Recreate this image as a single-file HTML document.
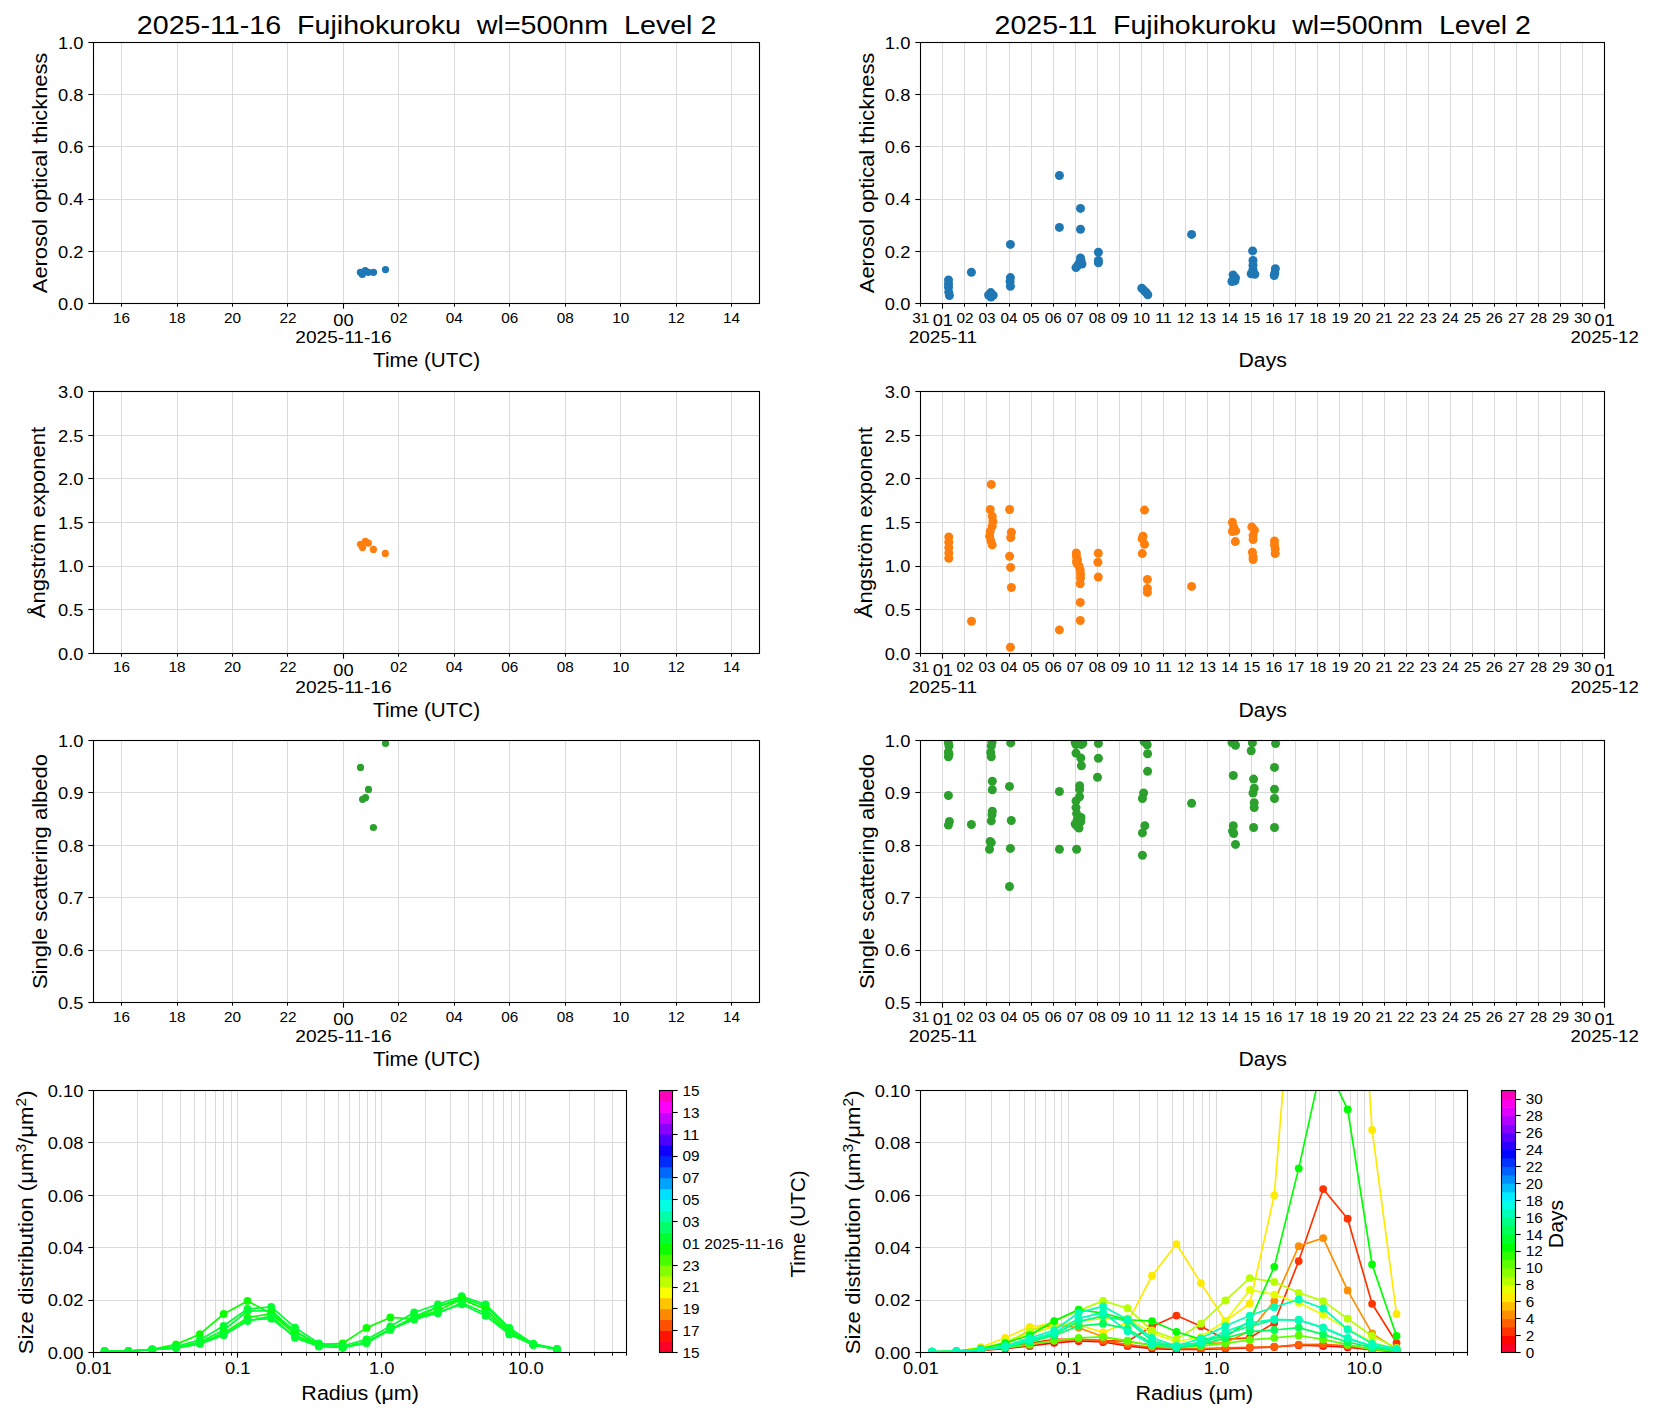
<!DOCTYPE html>
<html><head><meta charset="utf-8"><style>
html,body{margin:0;padding:0;background:#fff;}
svg{display:block;}
text{font-family:"Liberation Sans", sans-serif;fill:#000;white-space:pre;}
</style></head><body>
<svg width="1654" height="1420" viewBox="0 0 1654 1420">
<rect width="1654" height="1420" fill="#fff"/>
<text x="426.62" y="34" font-size="26" text-anchor="middle" textLength="579.5" lengthAdjust="spacingAndGlyphs">2025-11-16  Fujihokuroku  wl=500nm  Level 2</text>
<text x="1262.73" y="34" font-size="26" text-anchor="middle" textLength="536.36" lengthAdjust="spacingAndGlyphs">2025-11  Fujihokuroku  wl=500nm  Level 2</text>
<line x1="121.5" y1="42.5" x2="121.5" y2="303.4" stroke="#dadada" stroke-width="1"/>
<line x1="177.5" y1="42.5" x2="177.5" y2="303.4" stroke="#dadada" stroke-width="1"/>
<line x1="232.5" y1="42.5" x2="232.5" y2="303.4" stroke="#dadada" stroke-width="1"/>
<line x1="287.5" y1="42.5" x2="287.5" y2="303.4" stroke="#dadada" stroke-width="1"/>
<line x1="343.5" y1="42.5" x2="343.5" y2="303.4" stroke="#dadada" stroke-width="1"/>
<line x1="398.5" y1="42.5" x2="398.5" y2="303.4" stroke="#dadada" stroke-width="1"/>
<line x1="454.5" y1="42.5" x2="454.5" y2="303.4" stroke="#dadada" stroke-width="1"/>
<line x1="509.5" y1="42.5" x2="509.5" y2="303.4" stroke="#dadada" stroke-width="1"/>
<line x1="565.5" y1="42.5" x2="565.5" y2="303.4" stroke="#dadada" stroke-width="1"/>
<line x1="620.5" y1="42.5" x2="620.5" y2="303.4" stroke="#dadada" stroke-width="1"/>
<line x1="676.5" y1="42.5" x2="676.5" y2="303.4" stroke="#dadada" stroke-width="1"/>
<line x1="731.5" y1="42.5" x2="731.5" y2="303.4" stroke="#dadada" stroke-width="1"/>
<line x1="88.34" y1="303.5" x2="93.5" y2="303.5" stroke="#000" stroke-width="1.1"/>
<text x="83.44" y="309.7" font-size="16.64" text-anchor="end" textLength="25.47" lengthAdjust="spacingAndGlyphs">0.0</text>
<line x1="93.9" y1="251.5" x2="759.35" y2="251.5" stroke="#dadada" stroke-width="1"/>
<line x1="88.34" y1="251.5" x2="93.5" y2="251.5" stroke="#000" stroke-width="1.1"/>
<text x="83.44" y="257.52" font-size="16.64" text-anchor="end" textLength="25.47" lengthAdjust="spacingAndGlyphs">0.2</text>
<line x1="93.9" y1="199.5" x2="759.35" y2="199.5" stroke="#dadada" stroke-width="1"/>
<line x1="88.34" y1="199.5" x2="93.5" y2="199.5" stroke="#000" stroke-width="1.1"/>
<text x="83.44" y="205.34" font-size="16.64" text-anchor="end" textLength="25.47" lengthAdjust="spacingAndGlyphs">0.4</text>
<line x1="93.9" y1="146.5" x2="759.35" y2="146.5" stroke="#dadada" stroke-width="1"/>
<line x1="88.34" y1="146.5" x2="93.5" y2="146.5" stroke="#000" stroke-width="1.1"/>
<text x="83.44" y="153.16" font-size="16.64" text-anchor="end" textLength="25.47" lengthAdjust="spacingAndGlyphs">0.6</text>
<line x1="93.9" y1="94.5" x2="759.35" y2="94.5" stroke="#dadada" stroke-width="1"/>
<line x1="88.34" y1="94.5" x2="93.5" y2="94.5" stroke="#000" stroke-width="1.1"/>
<text x="83.44" y="100.98" font-size="16.64" text-anchor="end" textLength="25.47" lengthAdjust="spacingAndGlyphs">0.8</text>
<line x1="88.34" y1="42.5" x2="93.5" y2="42.5" stroke="#000" stroke-width="1.1"/>
<text x="83.44" y="48.8" font-size="16.64" text-anchor="end" textLength="25.47" lengthAdjust="spacingAndGlyphs">1.0</text>
<clipPath id="c1"><rect x="93.9" y="42.5" width="665.45" height="260.9"/></clipPath>
<g clip-path="url(#c1)" fill="#1f77b4">
<circle cx="360.4" cy="272.3" r="3.6"/>
<circle cx="362.3" cy="274.5" r="3.6"/>
<circle cx="365.2" cy="270.6" r="3.6"/>
<circle cx="368.4" cy="272.3" r="3.6"/>
<circle cx="373.5" cy="272.3" r="3.6"/>
<circle cx="385.5" cy="269.55" r="3.6"/>
</g>
<rect x="93.5" y="42.5" width="666" height="261" fill="none" stroke="#000" stroke-width="1.1"/>
<line x1="121.5" y1="303.5" x2="121.5" y2="306.68" stroke="#000" stroke-width="1"/>
<text x="121.63" y="322.95" font-size="13.86" text-anchor="middle" textLength="17.03" lengthAdjust="spacingAndGlyphs">16</text>
<line x1="177.5" y1="303.5" x2="177.5" y2="306.68" stroke="#000" stroke-width="1"/>
<text x="177.08" y="322.95" font-size="13.86" text-anchor="middle" textLength="17.03" lengthAdjust="spacingAndGlyphs">18</text>
<line x1="232.5" y1="303.5" x2="232.5" y2="306.68" stroke="#000" stroke-width="1"/>
<text x="232.54" y="322.95" font-size="13.86" text-anchor="middle" textLength="17.03" lengthAdjust="spacingAndGlyphs">20</text>
<line x1="287.5" y1="303.5" x2="287.5" y2="306.68" stroke="#000" stroke-width="1"/>
<text x="287.99" y="322.95" font-size="13.86" text-anchor="middle" textLength="17.03" lengthAdjust="spacingAndGlyphs">22</text>
<line x1="343.5" y1="303.5" x2="343.5" y2="308.66" stroke="#000" stroke-width="1.1"/>
<text x="343.44" y="325.8" font-size="16.64" text-anchor="middle" textLength="20.38" lengthAdjust="spacingAndGlyphs">00</text>
<text x="343.44" y="342.7" font-size="16.64" text-anchor="middle" textLength="96.32" lengthAdjust="spacingAndGlyphs">2025-11-16</text>
<line x1="398.5" y1="303.5" x2="398.5" y2="306.68" stroke="#000" stroke-width="1"/>
<text x="398.9" y="322.95" font-size="13.86" text-anchor="middle" textLength="17.03" lengthAdjust="spacingAndGlyphs">02</text>
<line x1="454.5" y1="303.5" x2="454.5" y2="306.68" stroke="#000" stroke-width="1"/>
<text x="454.35" y="322.95" font-size="13.86" text-anchor="middle" textLength="17.03" lengthAdjust="spacingAndGlyphs">04</text>
<line x1="509.5" y1="303.5" x2="509.5" y2="306.68" stroke="#000" stroke-width="1"/>
<text x="509.81" y="322.95" font-size="13.86" text-anchor="middle" textLength="17.03" lengthAdjust="spacingAndGlyphs">06</text>
<line x1="565.5" y1="303.5" x2="565.5" y2="306.68" stroke="#000" stroke-width="1"/>
<text x="565.26" y="322.95" font-size="13.86" text-anchor="middle" textLength="17.03" lengthAdjust="spacingAndGlyphs">08</text>
<line x1="620.5" y1="303.5" x2="620.5" y2="306.68" stroke="#000" stroke-width="1"/>
<text x="620.71" y="322.95" font-size="13.86" text-anchor="middle" textLength="17.03" lengthAdjust="spacingAndGlyphs">10</text>
<line x1="676.5" y1="303.5" x2="676.5" y2="306.68" stroke="#000" stroke-width="1"/>
<text x="676.17" y="322.95" font-size="13.86" text-anchor="middle" textLength="17.03" lengthAdjust="spacingAndGlyphs">12</text>
<line x1="731.5" y1="303.5" x2="731.5" y2="306.68" stroke="#000" stroke-width="1"/>
<text x="731.62" y="322.95" font-size="13.86" text-anchor="middle" textLength="17.03" lengthAdjust="spacingAndGlyphs">14</text>
<text x="426.62" y="366.9" font-size="20.22" text-anchor="middle" textLength="107.12" lengthAdjust="spacingAndGlyphs">Time (UTC)</text>
<line x1="121.5" y1="391.6" x2="121.5" y2="653.4" stroke="#dadada" stroke-width="1"/>
<line x1="177.5" y1="391.6" x2="177.5" y2="653.4" stroke="#dadada" stroke-width="1"/>
<line x1="232.5" y1="391.6" x2="232.5" y2="653.4" stroke="#dadada" stroke-width="1"/>
<line x1="287.5" y1="391.6" x2="287.5" y2="653.4" stroke="#dadada" stroke-width="1"/>
<line x1="343.5" y1="391.6" x2="343.5" y2="653.4" stroke="#dadada" stroke-width="1"/>
<line x1="398.5" y1="391.6" x2="398.5" y2="653.4" stroke="#dadada" stroke-width="1"/>
<line x1="454.5" y1="391.6" x2="454.5" y2="653.4" stroke="#dadada" stroke-width="1"/>
<line x1="509.5" y1="391.6" x2="509.5" y2="653.4" stroke="#dadada" stroke-width="1"/>
<line x1="565.5" y1="391.6" x2="565.5" y2="653.4" stroke="#dadada" stroke-width="1"/>
<line x1="620.5" y1="391.6" x2="620.5" y2="653.4" stroke="#dadada" stroke-width="1"/>
<line x1="676.5" y1="391.6" x2="676.5" y2="653.4" stroke="#dadada" stroke-width="1"/>
<line x1="731.5" y1="391.6" x2="731.5" y2="653.4" stroke="#dadada" stroke-width="1"/>
<line x1="88.34" y1="653.5" x2="93.5" y2="653.5" stroke="#000" stroke-width="1.1"/>
<text x="83.44" y="659.7" font-size="16.64" text-anchor="end" textLength="25.47" lengthAdjust="spacingAndGlyphs">0.0</text>
<line x1="93.9" y1="609.5" x2="759.35" y2="609.5" stroke="#dadada" stroke-width="1"/>
<line x1="88.34" y1="609.5" x2="93.5" y2="609.5" stroke="#000" stroke-width="1.1"/>
<text x="83.44" y="616.07" font-size="16.64" text-anchor="end" textLength="25.47" lengthAdjust="spacingAndGlyphs">0.5</text>
<line x1="93.9" y1="566.5" x2="759.35" y2="566.5" stroke="#dadada" stroke-width="1"/>
<line x1="88.34" y1="566.5" x2="93.5" y2="566.5" stroke="#000" stroke-width="1.1"/>
<text x="83.44" y="572.43" font-size="16.64" text-anchor="end" textLength="25.47" lengthAdjust="spacingAndGlyphs">1.0</text>
<line x1="93.9" y1="522.5" x2="759.35" y2="522.5" stroke="#dadada" stroke-width="1"/>
<line x1="88.34" y1="522.5" x2="93.5" y2="522.5" stroke="#000" stroke-width="1.1"/>
<text x="83.44" y="528.8" font-size="16.64" text-anchor="end" textLength="25.47" lengthAdjust="spacingAndGlyphs">1.5</text>
<line x1="93.9" y1="478.5" x2="759.35" y2="478.5" stroke="#dadada" stroke-width="1"/>
<line x1="88.34" y1="478.5" x2="93.5" y2="478.5" stroke="#000" stroke-width="1.1"/>
<text x="83.44" y="485.17" font-size="16.64" text-anchor="end" textLength="25.47" lengthAdjust="spacingAndGlyphs">2.0</text>
<line x1="93.9" y1="435.5" x2="759.35" y2="435.5" stroke="#dadada" stroke-width="1"/>
<line x1="88.34" y1="435.5" x2="93.5" y2="435.5" stroke="#000" stroke-width="1.1"/>
<text x="83.44" y="441.53" font-size="16.64" text-anchor="end" textLength="25.47" lengthAdjust="spacingAndGlyphs">2.5</text>
<line x1="88.34" y1="391.5" x2="93.5" y2="391.5" stroke="#000" stroke-width="1.1"/>
<text x="83.44" y="397.9" font-size="16.64" text-anchor="end" textLength="25.47" lengthAdjust="spacingAndGlyphs">3.0</text>
<clipPath id="c2"><rect x="93.9" y="391.6" width="665.45" height="261.8"/></clipPath>
<g clip-path="url(#c2)" fill="#ff7f0e">
<circle cx="360.5" cy="544.3" r="3.6"/>
<circle cx="362.5" cy="547.6" r="3.6"/>
<circle cx="365.4" cy="541.4" r="3.6"/>
<circle cx="368.3" cy="543.2" r="3.6"/>
<circle cx="373.4" cy="549.4" r="3.6"/>
<circle cx="385.3" cy="553.4" r="3.6"/>
</g>
<rect x="93.5" y="391.5" width="666" height="262" fill="none" stroke="#000" stroke-width="1.1"/>
<line x1="121.5" y1="653.5" x2="121.5" y2="656.68" stroke="#000" stroke-width="1"/>
<text x="121.63" y="671.85" font-size="13.86" text-anchor="middle" textLength="17.03" lengthAdjust="spacingAndGlyphs">16</text>
<line x1="177.5" y1="653.5" x2="177.5" y2="656.68" stroke="#000" stroke-width="1"/>
<text x="177.08" y="671.85" font-size="13.86" text-anchor="middle" textLength="17.03" lengthAdjust="spacingAndGlyphs">18</text>
<line x1="232.5" y1="653.5" x2="232.5" y2="656.68" stroke="#000" stroke-width="1"/>
<text x="232.54" y="671.85" font-size="13.86" text-anchor="middle" textLength="17.03" lengthAdjust="spacingAndGlyphs">20</text>
<line x1="287.5" y1="653.5" x2="287.5" y2="656.68" stroke="#000" stroke-width="1"/>
<text x="287.99" y="671.85" font-size="13.86" text-anchor="middle" textLength="17.03" lengthAdjust="spacingAndGlyphs">22</text>
<line x1="343.5" y1="653.5" x2="343.5" y2="658.66" stroke="#000" stroke-width="1.1"/>
<text x="343.44" y="675.8" font-size="16.64" text-anchor="middle" textLength="20.38" lengthAdjust="spacingAndGlyphs">00</text>
<text x="343.44" y="692.7" font-size="16.64" text-anchor="middle" textLength="96.32" lengthAdjust="spacingAndGlyphs">2025-11-16</text>
<line x1="398.5" y1="653.5" x2="398.5" y2="656.68" stroke="#000" stroke-width="1"/>
<text x="398.9" y="671.85" font-size="13.86" text-anchor="middle" textLength="17.03" lengthAdjust="spacingAndGlyphs">02</text>
<line x1="454.5" y1="653.5" x2="454.5" y2="656.68" stroke="#000" stroke-width="1"/>
<text x="454.35" y="671.85" font-size="13.86" text-anchor="middle" textLength="17.03" lengthAdjust="spacingAndGlyphs">04</text>
<line x1="509.5" y1="653.5" x2="509.5" y2="656.68" stroke="#000" stroke-width="1"/>
<text x="509.81" y="671.85" font-size="13.86" text-anchor="middle" textLength="17.03" lengthAdjust="spacingAndGlyphs">06</text>
<line x1="565.5" y1="653.5" x2="565.5" y2="656.68" stroke="#000" stroke-width="1"/>
<text x="565.26" y="671.85" font-size="13.86" text-anchor="middle" textLength="17.03" lengthAdjust="spacingAndGlyphs">08</text>
<line x1="620.5" y1="653.5" x2="620.5" y2="656.68" stroke="#000" stroke-width="1"/>
<text x="620.71" y="671.85" font-size="13.86" text-anchor="middle" textLength="17.03" lengthAdjust="spacingAndGlyphs">10</text>
<line x1="676.5" y1="653.5" x2="676.5" y2="656.68" stroke="#000" stroke-width="1"/>
<text x="676.17" y="671.85" font-size="13.86" text-anchor="middle" textLength="17.03" lengthAdjust="spacingAndGlyphs">12</text>
<line x1="731.5" y1="653.5" x2="731.5" y2="656.68" stroke="#000" stroke-width="1"/>
<text x="731.62" y="671.85" font-size="13.86" text-anchor="middle" textLength="17.03" lengthAdjust="spacingAndGlyphs">14</text>
<text x="426.62" y="716.9" font-size="20.22" text-anchor="middle" textLength="107.12" lengthAdjust="spacingAndGlyphs">Time (UTC)</text>
<line x1="121.5" y1="740.5" x2="121.5" y2="1002.5" stroke="#dadada" stroke-width="1"/>
<line x1="177.5" y1="740.5" x2="177.5" y2="1002.5" stroke="#dadada" stroke-width="1"/>
<line x1="232.5" y1="740.5" x2="232.5" y2="1002.5" stroke="#dadada" stroke-width="1"/>
<line x1="287.5" y1="740.5" x2="287.5" y2="1002.5" stroke="#dadada" stroke-width="1"/>
<line x1="343.5" y1="740.5" x2="343.5" y2="1002.5" stroke="#dadada" stroke-width="1"/>
<line x1="398.5" y1="740.5" x2="398.5" y2="1002.5" stroke="#dadada" stroke-width="1"/>
<line x1="454.5" y1="740.5" x2="454.5" y2="1002.5" stroke="#dadada" stroke-width="1"/>
<line x1="509.5" y1="740.5" x2="509.5" y2="1002.5" stroke="#dadada" stroke-width="1"/>
<line x1="565.5" y1="740.5" x2="565.5" y2="1002.5" stroke="#dadada" stroke-width="1"/>
<line x1="620.5" y1="740.5" x2="620.5" y2="1002.5" stroke="#dadada" stroke-width="1"/>
<line x1="676.5" y1="740.5" x2="676.5" y2="1002.5" stroke="#dadada" stroke-width="1"/>
<line x1="731.5" y1="740.5" x2="731.5" y2="1002.5" stroke="#dadada" stroke-width="1"/>
<line x1="88.34" y1="1002.5" x2="93.5" y2="1002.5" stroke="#000" stroke-width="1.1"/>
<text x="83.44" y="1008.8" font-size="16.64" text-anchor="end" textLength="25.47" lengthAdjust="spacingAndGlyphs">0.5</text>
<line x1="93.9" y1="950.5" x2="759.35" y2="950.5" stroke="#dadada" stroke-width="1"/>
<line x1="88.34" y1="950.5" x2="93.5" y2="950.5" stroke="#000" stroke-width="1.1"/>
<text x="83.44" y="956.4" font-size="16.64" text-anchor="end" textLength="25.47" lengthAdjust="spacingAndGlyphs">0.6</text>
<line x1="93.9" y1="897.5" x2="759.35" y2="897.5" stroke="#dadada" stroke-width="1"/>
<line x1="88.34" y1="897.5" x2="93.5" y2="897.5" stroke="#000" stroke-width="1.1"/>
<text x="83.44" y="904" font-size="16.64" text-anchor="end" textLength="25.47" lengthAdjust="spacingAndGlyphs">0.7</text>
<line x1="93.9" y1="845.5" x2="759.35" y2="845.5" stroke="#dadada" stroke-width="1"/>
<line x1="88.34" y1="845.5" x2="93.5" y2="845.5" stroke="#000" stroke-width="1.1"/>
<text x="83.44" y="851.6" font-size="16.64" text-anchor="end" textLength="25.47" lengthAdjust="spacingAndGlyphs">0.8</text>
<line x1="93.9" y1="792.5" x2="759.35" y2="792.5" stroke="#dadada" stroke-width="1"/>
<line x1="88.34" y1="792.5" x2="93.5" y2="792.5" stroke="#000" stroke-width="1.1"/>
<text x="83.44" y="799.2" font-size="16.64" text-anchor="end" textLength="25.47" lengthAdjust="spacingAndGlyphs">0.9</text>
<line x1="88.34" y1="740.5" x2="93.5" y2="740.5" stroke="#000" stroke-width="1.1"/>
<text x="83.44" y="746.8" font-size="16.64" text-anchor="end" textLength="25.47" lengthAdjust="spacingAndGlyphs">1.0</text>
<clipPath id="c3"><rect x="93.9" y="740.5" width="665.45" height="262"/></clipPath>
<g clip-path="url(#c3)" fill="#2ca02c">
<circle cx="360.5" cy="767.4" r="3.6"/>
<circle cx="362.6" cy="799.3" r="3.6"/>
<circle cx="365.5" cy="797.7" r="3.6"/>
<circle cx="368.5" cy="789.4" r="3.6"/>
<circle cx="373.4" cy="827.5" r="3.6"/>
<circle cx="385.5" cy="743.5" r="3.6"/>
</g>
<rect x="93.5" y="740.5" width="666" height="262" fill="none" stroke="#000" stroke-width="1.1"/>
<line x1="121.5" y1="1002.5" x2="121.5" y2="1005.68" stroke="#000" stroke-width="1"/>
<text x="121.63" y="1022.05" font-size="13.86" text-anchor="middle" textLength="17.03" lengthAdjust="spacingAndGlyphs">16</text>
<line x1="177.5" y1="1002.5" x2="177.5" y2="1005.68" stroke="#000" stroke-width="1"/>
<text x="177.08" y="1022.05" font-size="13.86" text-anchor="middle" textLength="17.03" lengthAdjust="spacingAndGlyphs">18</text>
<line x1="232.5" y1="1002.5" x2="232.5" y2="1005.68" stroke="#000" stroke-width="1"/>
<text x="232.54" y="1022.05" font-size="13.86" text-anchor="middle" textLength="17.03" lengthAdjust="spacingAndGlyphs">20</text>
<line x1="287.5" y1="1002.5" x2="287.5" y2="1005.68" stroke="#000" stroke-width="1"/>
<text x="287.99" y="1022.05" font-size="13.86" text-anchor="middle" textLength="17.03" lengthAdjust="spacingAndGlyphs">22</text>
<line x1="343.5" y1="1002.5" x2="343.5" y2="1007.66" stroke="#000" stroke-width="1.1"/>
<text x="343.44" y="1024.9" font-size="16.64" text-anchor="middle" textLength="20.38" lengthAdjust="spacingAndGlyphs">00</text>
<text x="343.44" y="1041.8" font-size="16.64" text-anchor="middle" textLength="96.32" lengthAdjust="spacingAndGlyphs">2025-11-16</text>
<line x1="398.5" y1="1002.5" x2="398.5" y2="1005.68" stroke="#000" stroke-width="1"/>
<text x="398.9" y="1022.05" font-size="13.86" text-anchor="middle" textLength="17.03" lengthAdjust="spacingAndGlyphs">02</text>
<line x1="454.5" y1="1002.5" x2="454.5" y2="1005.68" stroke="#000" stroke-width="1"/>
<text x="454.35" y="1022.05" font-size="13.86" text-anchor="middle" textLength="17.03" lengthAdjust="spacingAndGlyphs">04</text>
<line x1="509.5" y1="1002.5" x2="509.5" y2="1005.68" stroke="#000" stroke-width="1"/>
<text x="509.81" y="1022.05" font-size="13.86" text-anchor="middle" textLength="17.03" lengthAdjust="spacingAndGlyphs">06</text>
<line x1="565.5" y1="1002.5" x2="565.5" y2="1005.68" stroke="#000" stroke-width="1"/>
<text x="565.26" y="1022.05" font-size="13.86" text-anchor="middle" textLength="17.03" lengthAdjust="spacingAndGlyphs">08</text>
<line x1="620.5" y1="1002.5" x2="620.5" y2="1005.68" stroke="#000" stroke-width="1"/>
<text x="620.71" y="1022.05" font-size="13.86" text-anchor="middle" textLength="17.03" lengthAdjust="spacingAndGlyphs">10</text>
<line x1="676.5" y1="1002.5" x2="676.5" y2="1005.68" stroke="#000" stroke-width="1"/>
<text x="676.17" y="1022.05" font-size="13.86" text-anchor="middle" textLength="17.03" lengthAdjust="spacingAndGlyphs">12</text>
<line x1="731.5" y1="1002.5" x2="731.5" y2="1005.68" stroke="#000" stroke-width="1"/>
<text x="731.62" y="1022.05" font-size="13.86" text-anchor="middle" textLength="17.03" lengthAdjust="spacingAndGlyphs">14</text>
<text x="426.62" y="1066" font-size="20.22" text-anchor="middle" textLength="107.12" lengthAdjust="spacingAndGlyphs">Time (UTC)</text>
<line x1="942.5" y1="42.5" x2="942.5" y2="303.4" stroke="#dadada" stroke-width="1"/>
<line x1="964.5" y1="42.5" x2="964.5" y2="303.4" stroke="#dadada" stroke-width="1"/>
<line x1="986.5" y1="42.5" x2="986.5" y2="303.4" stroke="#dadada" stroke-width="1"/>
<line x1="1009.5" y1="42.5" x2="1009.5" y2="303.4" stroke="#dadada" stroke-width="1"/>
<line x1="1031.5" y1="42.5" x2="1031.5" y2="303.4" stroke="#dadada" stroke-width="1"/>
<line x1="1053.5" y1="42.5" x2="1053.5" y2="303.4" stroke="#dadada" stroke-width="1"/>
<line x1="1075.5" y1="42.5" x2="1075.5" y2="303.4" stroke="#dadada" stroke-width="1"/>
<line x1="1097.5" y1="42.5" x2="1097.5" y2="303.4" stroke="#dadada" stroke-width="1"/>
<line x1="1119.5" y1="42.5" x2="1119.5" y2="303.4" stroke="#dadada" stroke-width="1"/>
<line x1="1141.5" y1="42.5" x2="1141.5" y2="303.4" stroke="#dadada" stroke-width="1"/>
<line x1="1163.5" y1="42.5" x2="1163.5" y2="303.4" stroke="#dadada" stroke-width="1"/>
<line x1="1185.5" y1="42.5" x2="1185.5" y2="303.4" stroke="#dadada" stroke-width="1"/>
<line x1="1207.5" y1="42.5" x2="1207.5" y2="303.4" stroke="#dadada" stroke-width="1"/>
<line x1="1229.5" y1="42.5" x2="1229.5" y2="303.4" stroke="#dadada" stroke-width="1"/>
<line x1="1251.5" y1="42.5" x2="1251.5" y2="303.4" stroke="#dadada" stroke-width="1"/>
<line x1="1273.5" y1="42.5" x2="1273.5" y2="303.4" stroke="#dadada" stroke-width="1"/>
<line x1="1295.5" y1="42.5" x2="1295.5" y2="303.4" stroke="#dadada" stroke-width="1"/>
<line x1="1317.5" y1="42.5" x2="1317.5" y2="303.4" stroke="#dadada" stroke-width="1"/>
<line x1="1339.5" y1="42.5" x2="1339.5" y2="303.4" stroke="#dadada" stroke-width="1"/>
<line x1="1362.5" y1="42.5" x2="1362.5" y2="303.4" stroke="#dadada" stroke-width="1"/>
<line x1="1384.5" y1="42.5" x2="1384.5" y2="303.4" stroke="#dadada" stroke-width="1"/>
<line x1="1406.5" y1="42.5" x2="1406.5" y2="303.4" stroke="#dadada" stroke-width="1"/>
<line x1="1428.5" y1="42.5" x2="1428.5" y2="303.4" stroke="#dadada" stroke-width="1"/>
<line x1="1450.5" y1="42.5" x2="1450.5" y2="303.4" stroke="#dadada" stroke-width="1"/>
<line x1="1472.5" y1="42.5" x2="1472.5" y2="303.4" stroke="#dadada" stroke-width="1"/>
<line x1="1494.5" y1="42.5" x2="1494.5" y2="303.4" stroke="#dadada" stroke-width="1"/>
<line x1="1516.5" y1="42.5" x2="1516.5" y2="303.4" stroke="#dadada" stroke-width="1"/>
<line x1="1538.5" y1="42.5" x2="1538.5" y2="303.4" stroke="#dadada" stroke-width="1"/>
<line x1="1560.5" y1="42.5" x2="1560.5" y2="303.4" stroke="#dadada" stroke-width="1"/>
<line x1="1582.5" y1="42.5" x2="1582.5" y2="303.4" stroke="#dadada" stroke-width="1"/>
<line x1="915.34" y1="303.5" x2="920.5" y2="303.5" stroke="#000" stroke-width="1.1"/>
<text x="910.34" y="309.7" font-size="16.64" text-anchor="end" textLength="25.47" lengthAdjust="spacingAndGlyphs">0.0</text>
<line x1="920.8" y1="251.5" x2="1604.66" y2="251.5" stroke="#dadada" stroke-width="1"/>
<line x1="915.34" y1="251.5" x2="920.5" y2="251.5" stroke="#000" stroke-width="1.1"/>
<text x="910.34" y="257.52" font-size="16.64" text-anchor="end" textLength="25.47" lengthAdjust="spacingAndGlyphs">0.2</text>
<line x1="920.8" y1="199.5" x2="1604.66" y2="199.5" stroke="#dadada" stroke-width="1"/>
<line x1="915.34" y1="199.5" x2="920.5" y2="199.5" stroke="#000" stroke-width="1.1"/>
<text x="910.34" y="205.34" font-size="16.64" text-anchor="end" textLength="25.47" lengthAdjust="spacingAndGlyphs">0.4</text>
<line x1="920.8" y1="146.5" x2="1604.66" y2="146.5" stroke="#dadada" stroke-width="1"/>
<line x1="915.34" y1="146.5" x2="920.5" y2="146.5" stroke="#000" stroke-width="1.1"/>
<text x="910.34" y="153.16" font-size="16.64" text-anchor="end" textLength="25.47" lengthAdjust="spacingAndGlyphs">0.6</text>
<line x1="920.8" y1="94.5" x2="1604.66" y2="94.5" stroke="#dadada" stroke-width="1"/>
<line x1="915.34" y1="94.5" x2="920.5" y2="94.5" stroke="#000" stroke-width="1.1"/>
<text x="910.34" y="100.98" font-size="16.64" text-anchor="end" textLength="25.47" lengthAdjust="spacingAndGlyphs">0.8</text>
<line x1="915.34" y1="42.5" x2="920.5" y2="42.5" stroke="#000" stroke-width="1.1"/>
<text x="910.34" y="48.8" font-size="16.64" text-anchor="end" textLength="25.47" lengthAdjust="spacingAndGlyphs">1.0</text>
<clipPath id="c4"><rect x="920.8" y="42.5" width="683.86" height="260.9"/></clipPath>
<g clip-path="url(#c4)" fill="#1f77b4">
<circle cx="948.5" cy="280" r="4.5"/>
<circle cx="948.5" cy="284" r="4.5"/>
<circle cx="948.5" cy="287.2" r="4.5"/>
<circle cx="948.7" cy="292.1" r="4.5"/>
<circle cx="949.4" cy="295.5" r="4.5"/>
<circle cx="971.4" cy="272.2" r="4.5"/>
<circle cx="990.8" cy="292.6" r="4.5"/>
<circle cx="988.6" cy="295" r="4.5"/>
<circle cx="993.2" cy="295.3" r="4.5"/>
<circle cx="991" cy="297" r="4.5"/>
<circle cx="1010.4" cy="244.4" r="4.5"/>
<circle cx="1010.4" cy="277.6" r="4.5"/>
<circle cx="1010.1" cy="281.4" r="4.5"/>
<circle cx="1010.4" cy="286.3" r="4.5"/>
<circle cx="1059.4" cy="175.5" r="4.5"/>
<circle cx="1059.4" cy="227.4" r="4.5"/>
<circle cx="1080.5" cy="208.4" r="4.5"/>
<circle cx="1080.5" cy="229.2" r="4.5"/>
<circle cx="1080.5" cy="258" r="4.5"/>
<circle cx="1081" cy="260.5" r="4.5"/>
<circle cx="1079.6" cy="262.8" r="4.5"/>
<circle cx="1082" cy="264" r="4.5"/>
<circle cx="1078" cy="265" r="4.5"/>
<circle cx="1076" cy="267.6" r="4.5"/>
<circle cx="1098.4" cy="252.3" r="4.5"/>
<circle cx="1098.4" cy="260.4" r="4.5"/>
<circle cx="1098.4" cy="262.8" r="4.5"/>
<circle cx="1141.8" cy="288.2" r="4.5"/>
<circle cx="1144.2" cy="290.6" r="4.5"/>
<circle cx="1146" cy="292.4" r="4.5"/>
<circle cx="1147.8" cy="294.8" r="4.5"/>
<circle cx="1191.6" cy="234.4" r="4.5"/>
<circle cx="1233.1" cy="274.9" r="4.5"/>
<circle cx="1235.5" cy="277.9" r="4.5"/>
<circle cx="1231.9" cy="281.5" r="4.5"/>
<circle cx="1234.9" cy="280.9" r="4.5"/>
<circle cx="1252.6" cy="250.9" r="4.5"/>
<circle cx="1253" cy="260.4" r="4.5"/>
<circle cx="1253" cy="265.2" r="4.5"/>
<circle cx="1253" cy="269.4" r="4.5"/>
<circle cx="1251.2" cy="273.7" r="4.5"/>
<circle cx="1254.8" cy="274.3" r="4.5"/>
<circle cx="1275.4" cy="268.8" r="4.5"/>
<circle cx="1274.8" cy="273.1" r="4.5"/>
<circle cx="1274.2" cy="275.5" r="4.5"/>
</g>
<rect x="920.5" y="42.5" width="684" height="261" fill="none" stroke="#000" stroke-width="1.1"/>
<line x1="920.5" y1="303.5" x2="920.5" y2="306.68" stroke="#000" stroke-width="1"/>
<text x="920.8" y="322.95" font-size="13.86" text-anchor="middle" textLength="17.03" lengthAdjust="spacingAndGlyphs">31</text>
<line x1="942.5" y1="303.5" x2="942.5" y2="308.66" stroke="#000" stroke-width="1.1"/>
<text x="942.86" y="325.8" font-size="16.64" text-anchor="middle" textLength="20.38" lengthAdjust="spacingAndGlyphs">01</text>
<text x="942.86" y="342.7" font-size="16.64" text-anchor="middle" textLength="68.24" lengthAdjust="spacingAndGlyphs">2025-11</text>
<line x1="964.5" y1="303.5" x2="964.5" y2="306.68" stroke="#000" stroke-width="1"/>
<text x="964.92" y="322.95" font-size="13.86" text-anchor="middle" textLength="17.03" lengthAdjust="spacingAndGlyphs">02</text>
<line x1="986.5" y1="303.5" x2="986.5" y2="306.68" stroke="#000" stroke-width="1"/>
<text x="986.98" y="322.95" font-size="13.86" text-anchor="middle" textLength="17.03" lengthAdjust="spacingAndGlyphs">03</text>
<line x1="1009.5" y1="303.5" x2="1009.5" y2="306.68" stroke="#000" stroke-width="1"/>
<text x="1009.04" y="322.95" font-size="13.86" text-anchor="middle" textLength="17.03" lengthAdjust="spacingAndGlyphs">04</text>
<line x1="1031.5" y1="303.5" x2="1031.5" y2="306.68" stroke="#000" stroke-width="1"/>
<text x="1031.1" y="322.95" font-size="13.86" text-anchor="middle" textLength="17.03" lengthAdjust="spacingAndGlyphs">05</text>
<line x1="1053.5" y1="303.5" x2="1053.5" y2="306.68" stroke="#000" stroke-width="1"/>
<text x="1053.16" y="322.95" font-size="13.86" text-anchor="middle" textLength="17.03" lengthAdjust="spacingAndGlyphs">06</text>
<line x1="1075.5" y1="303.5" x2="1075.5" y2="306.68" stroke="#000" stroke-width="1"/>
<text x="1075.22" y="322.95" font-size="13.86" text-anchor="middle" textLength="17.03" lengthAdjust="spacingAndGlyphs">07</text>
<line x1="1097.5" y1="303.5" x2="1097.5" y2="306.68" stroke="#000" stroke-width="1"/>
<text x="1097.28" y="322.95" font-size="13.86" text-anchor="middle" textLength="17.03" lengthAdjust="spacingAndGlyphs">08</text>
<line x1="1119.5" y1="303.5" x2="1119.5" y2="306.68" stroke="#000" stroke-width="1"/>
<text x="1119.34" y="322.95" font-size="13.86" text-anchor="middle" textLength="17.03" lengthAdjust="spacingAndGlyphs">09</text>
<line x1="1141.5" y1="303.5" x2="1141.5" y2="306.68" stroke="#000" stroke-width="1"/>
<text x="1141.4" y="322.95" font-size="13.86" text-anchor="middle" textLength="17.03" lengthAdjust="spacingAndGlyphs">10</text>
<line x1="1163.5" y1="303.5" x2="1163.5" y2="306.68" stroke="#000" stroke-width="1"/>
<text x="1163.46" y="322.95" font-size="13.86" text-anchor="middle" textLength="17.03" lengthAdjust="spacingAndGlyphs">11</text>
<line x1="1185.5" y1="303.5" x2="1185.5" y2="306.68" stroke="#000" stroke-width="1"/>
<text x="1185.52" y="322.95" font-size="13.86" text-anchor="middle" textLength="17.03" lengthAdjust="spacingAndGlyphs">12</text>
<line x1="1207.5" y1="303.5" x2="1207.5" y2="306.68" stroke="#000" stroke-width="1"/>
<text x="1207.58" y="322.95" font-size="13.86" text-anchor="middle" textLength="17.03" lengthAdjust="spacingAndGlyphs">13</text>
<line x1="1229.5" y1="303.5" x2="1229.5" y2="306.68" stroke="#000" stroke-width="1"/>
<text x="1229.64" y="322.95" font-size="13.86" text-anchor="middle" textLength="17.03" lengthAdjust="spacingAndGlyphs">14</text>
<line x1="1251.5" y1="303.5" x2="1251.5" y2="306.68" stroke="#000" stroke-width="1"/>
<text x="1251.7" y="322.95" font-size="13.86" text-anchor="middle" textLength="17.03" lengthAdjust="spacingAndGlyphs">15</text>
<line x1="1273.5" y1="303.5" x2="1273.5" y2="306.68" stroke="#000" stroke-width="1"/>
<text x="1273.76" y="322.95" font-size="13.86" text-anchor="middle" textLength="17.03" lengthAdjust="spacingAndGlyphs">16</text>
<line x1="1295.5" y1="303.5" x2="1295.5" y2="306.68" stroke="#000" stroke-width="1"/>
<text x="1295.82" y="322.95" font-size="13.86" text-anchor="middle" textLength="17.03" lengthAdjust="spacingAndGlyphs">17</text>
<line x1="1317.5" y1="303.5" x2="1317.5" y2="306.68" stroke="#000" stroke-width="1"/>
<text x="1317.88" y="322.95" font-size="13.86" text-anchor="middle" textLength="17.03" lengthAdjust="spacingAndGlyphs">18</text>
<line x1="1339.5" y1="303.5" x2="1339.5" y2="306.68" stroke="#000" stroke-width="1"/>
<text x="1339.94" y="322.95" font-size="13.86" text-anchor="middle" textLength="17.03" lengthAdjust="spacingAndGlyphs">19</text>
<line x1="1362.5" y1="303.5" x2="1362.5" y2="306.68" stroke="#000" stroke-width="1"/>
<text x="1362" y="322.95" font-size="13.86" text-anchor="middle" textLength="17.03" lengthAdjust="spacingAndGlyphs">20</text>
<line x1="1384.5" y1="303.5" x2="1384.5" y2="306.68" stroke="#000" stroke-width="1"/>
<text x="1384.06" y="322.95" font-size="13.86" text-anchor="middle" textLength="17.03" lengthAdjust="spacingAndGlyphs">21</text>
<line x1="1406.5" y1="303.5" x2="1406.5" y2="306.68" stroke="#000" stroke-width="1"/>
<text x="1406.12" y="322.95" font-size="13.86" text-anchor="middle" textLength="17.03" lengthAdjust="spacingAndGlyphs">22</text>
<line x1="1428.5" y1="303.5" x2="1428.5" y2="306.68" stroke="#000" stroke-width="1"/>
<text x="1428.18" y="322.95" font-size="13.86" text-anchor="middle" textLength="17.03" lengthAdjust="spacingAndGlyphs">23</text>
<line x1="1450.5" y1="303.5" x2="1450.5" y2="306.68" stroke="#000" stroke-width="1"/>
<text x="1450.24" y="322.95" font-size="13.86" text-anchor="middle" textLength="17.03" lengthAdjust="spacingAndGlyphs">24</text>
<line x1="1472.5" y1="303.5" x2="1472.5" y2="306.68" stroke="#000" stroke-width="1"/>
<text x="1472.3" y="322.95" font-size="13.86" text-anchor="middle" textLength="17.03" lengthAdjust="spacingAndGlyphs">25</text>
<line x1="1494.5" y1="303.5" x2="1494.5" y2="306.68" stroke="#000" stroke-width="1"/>
<text x="1494.36" y="322.95" font-size="13.86" text-anchor="middle" textLength="17.03" lengthAdjust="spacingAndGlyphs">26</text>
<line x1="1516.5" y1="303.5" x2="1516.5" y2="306.68" stroke="#000" stroke-width="1"/>
<text x="1516.42" y="322.95" font-size="13.86" text-anchor="middle" textLength="17.03" lengthAdjust="spacingAndGlyphs">27</text>
<line x1="1538.5" y1="303.5" x2="1538.5" y2="306.68" stroke="#000" stroke-width="1"/>
<text x="1538.48" y="322.95" font-size="13.86" text-anchor="middle" textLength="17.03" lengthAdjust="spacingAndGlyphs">28</text>
<line x1="1560.5" y1="303.5" x2="1560.5" y2="306.68" stroke="#000" stroke-width="1"/>
<text x="1560.54" y="322.95" font-size="13.86" text-anchor="middle" textLength="17.03" lengthAdjust="spacingAndGlyphs">29</text>
<line x1="1582.5" y1="303.5" x2="1582.5" y2="306.68" stroke="#000" stroke-width="1"/>
<text x="1582.6" y="322.95" font-size="13.86" text-anchor="middle" textLength="17.03" lengthAdjust="spacingAndGlyphs">30</text>
<line x1="1604.5" y1="303.5" x2="1604.5" y2="308.66" stroke="#000" stroke-width="1.1"/>
<text x="1604.66" y="325.8" font-size="16.64" text-anchor="middle" textLength="20.38" lengthAdjust="spacingAndGlyphs">01</text>
<text x="1604.66" y="342.7" font-size="16.64" text-anchor="middle" textLength="68.24" lengthAdjust="spacingAndGlyphs">2025-12</text>
<text x="1262.73" y="366.9" font-size="20.22" text-anchor="middle" textLength="48.36" lengthAdjust="spacingAndGlyphs">Days</text>
<line x1="942.5" y1="391.6" x2="942.5" y2="653.4" stroke="#dadada" stroke-width="1"/>
<line x1="964.5" y1="391.6" x2="964.5" y2="653.4" stroke="#dadada" stroke-width="1"/>
<line x1="986.5" y1="391.6" x2="986.5" y2="653.4" stroke="#dadada" stroke-width="1"/>
<line x1="1009.5" y1="391.6" x2="1009.5" y2="653.4" stroke="#dadada" stroke-width="1"/>
<line x1="1031.5" y1="391.6" x2="1031.5" y2="653.4" stroke="#dadada" stroke-width="1"/>
<line x1="1053.5" y1="391.6" x2="1053.5" y2="653.4" stroke="#dadada" stroke-width="1"/>
<line x1="1075.5" y1="391.6" x2="1075.5" y2="653.4" stroke="#dadada" stroke-width="1"/>
<line x1="1097.5" y1="391.6" x2="1097.5" y2="653.4" stroke="#dadada" stroke-width="1"/>
<line x1="1119.5" y1="391.6" x2="1119.5" y2="653.4" stroke="#dadada" stroke-width="1"/>
<line x1="1141.5" y1="391.6" x2="1141.5" y2="653.4" stroke="#dadada" stroke-width="1"/>
<line x1="1163.5" y1="391.6" x2="1163.5" y2="653.4" stroke="#dadada" stroke-width="1"/>
<line x1="1185.5" y1="391.6" x2="1185.5" y2="653.4" stroke="#dadada" stroke-width="1"/>
<line x1="1207.5" y1="391.6" x2="1207.5" y2="653.4" stroke="#dadada" stroke-width="1"/>
<line x1="1229.5" y1="391.6" x2="1229.5" y2="653.4" stroke="#dadada" stroke-width="1"/>
<line x1="1251.5" y1="391.6" x2="1251.5" y2="653.4" stroke="#dadada" stroke-width="1"/>
<line x1="1273.5" y1="391.6" x2="1273.5" y2="653.4" stroke="#dadada" stroke-width="1"/>
<line x1="1295.5" y1="391.6" x2="1295.5" y2="653.4" stroke="#dadada" stroke-width="1"/>
<line x1="1317.5" y1="391.6" x2="1317.5" y2="653.4" stroke="#dadada" stroke-width="1"/>
<line x1="1339.5" y1="391.6" x2="1339.5" y2="653.4" stroke="#dadada" stroke-width="1"/>
<line x1="1362.5" y1="391.6" x2="1362.5" y2="653.4" stroke="#dadada" stroke-width="1"/>
<line x1="1384.5" y1="391.6" x2="1384.5" y2="653.4" stroke="#dadada" stroke-width="1"/>
<line x1="1406.5" y1="391.6" x2="1406.5" y2="653.4" stroke="#dadada" stroke-width="1"/>
<line x1="1428.5" y1="391.6" x2="1428.5" y2="653.4" stroke="#dadada" stroke-width="1"/>
<line x1="1450.5" y1="391.6" x2="1450.5" y2="653.4" stroke="#dadada" stroke-width="1"/>
<line x1="1472.5" y1="391.6" x2="1472.5" y2="653.4" stroke="#dadada" stroke-width="1"/>
<line x1="1494.5" y1="391.6" x2="1494.5" y2="653.4" stroke="#dadada" stroke-width="1"/>
<line x1="1516.5" y1="391.6" x2="1516.5" y2="653.4" stroke="#dadada" stroke-width="1"/>
<line x1="1538.5" y1="391.6" x2="1538.5" y2="653.4" stroke="#dadada" stroke-width="1"/>
<line x1="1560.5" y1="391.6" x2="1560.5" y2="653.4" stroke="#dadada" stroke-width="1"/>
<line x1="1582.5" y1="391.6" x2="1582.5" y2="653.4" stroke="#dadada" stroke-width="1"/>
<line x1="915.34" y1="653.5" x2="920.5" y2="653.5" stroke="#000" stroke-width="1.1"/>
<text x="910.34" y="659.7" font-size="16.64" text-anchor="end" textLength="25.47" lengthAdjust="spacingAndGlyphs">0.0</text>
<line x1="920.8" y1="609.5" x2="1604.66" y2="609.5" stroke="#dadada" stroke-width="1"/>
<line x1="915.34" y1="609.5" x2="920.5" y2="609.5" stroke="#000" stroke-width="1.1"/>
<text x="910.34" y="616.07" font-size="16.64" text-anchor="end" textLength="25.47" lengthAdjust="spacingAndGlyphs">0.5</text>
<line x1="920.8" y1="566.5" x2="1604.66" y2="566.5" stroke="#dadada" stroke-width="1"/>
<line x1="915.34" y1="566.5" x2="920.5" y2="566.5" stroke="#000" stroke-width="1.1"/>
<text x="910.34" y="572.43" font-size="16.64" text-anchor="end" textLength="25.47" lengthAdjust="spacingAndGlyphs">1.0</text>
<line x1="920.8" y1="522.5" x2="1604.66" y2="522.5" stroke="#dadada" stroke-width="1"/>
<line x1="915.34" y1="522.5" x2="920.5" y2="522.5" stroke="#000" stroke-width="1.1"/>
<text x="910.34" y="528.8" font-size="16.64" text-anchor="end" textLength="25.47" lengthAdjust="spacingAndGlyphs">1.5</text>
<line x1="920.8" y1="478.5" x2="1604.66" y2="478.5" stroke="#dadada" stroke-width="1"/>
<line x1="915.34" y1="478.5" x2="920.5" y2="478.5" stroke="#000" stroke-width="1.1"/>
<text x="910.34" y="485.17" font-size="16.64" text-anchor="end" textLength="25.47" lengthAdjust="spacingAndGlyphs">2.0</text>
<line x1="920.8" y1="435.5" x2="1604.66" y2="435.5" stroke="#dadada" stroke-width="1"/>
<line x1="915.34" y1="435.5" x2="920.5" y2="435.5" stroke="#000" stroke-width="1.1"/>
<text x="910.34" y="441.53" font-size="16.64" text-anchor="end" textLength="25.47" lengthAdjust="spacingAndGlyphs">2.5</text>
<line x1="915.34" y1="391.5" x2="920.5" y2="391.5" stroke="#000" stroke-width="1.1"/>
<text x="910.34" y="397.9" font-size="16.64" text-anchor="end" textLength="25.47" lengthAdjust="spacingAndGlyphs">3.0</text>
<clipPath id="c5"><rect x="920.8" y="391.6" width="683.86" height="261.8"/></clipPath>
<g clip-path="url(#c5)" fill="#ff7f0e">
<circle cx="948.8" cy="536.9" r="4.5"/>
<circle cx="948.8" cy="542.2" r="4.5"/>
<circle cx="948.8" cy="547.6" r="4.5"/>
<circle cx="948.8" cy="552.9" r="4.5"/>
<circle cx="948.8" cy="558.3" r="4.5"/>
<circle cx="971.5" cy="621.2" r="4.5"/>
<circle cx="991.3" cy="484.4" r="4.5"/>
<circle cx="990.2" cy="509.5" r="4.5"/>
<circle cx="992.2" cy="516.2" r="4.5"/>
<circle cx="992.9" cy="521.5" r="4.5"/>
<circle cx="992.2" cy="526.2" r="4.5"/>
<circle cx="990.2" cy="531.5" r="4.5"/>
<circle cx="989.6" cy="536.2" r="4.5"/>
<circle cx="990.9" cy="540.9" r="4.5"/>
<circle cx="992.2" cy="544.9" r="4.5"/>
<circle cx="1009.6" cy="509.5" r="4.5"/>
<circle cx="1011.4" cy="532.2" r="4.5"/>
<circle cx="1010.7" cy="537.6" r="4.5"/>
<circle cx="1009.6" cy="556.3" r="4.5"/>
<circle cx="1010.6" cy="567.4" r="4.5"/>
<circle cx="1011.4" cy="587.5" r="4.5"/>
<circle cx="1010.4" cy="647.3" r="4.5"/>
<circle cx="1059.4" cy="629.9" r="4.5"/>
<circle cx="1080.3" cy="602.4" r="4.5"/>
<circle cx="1080.3" cy="620.5" r="4.5"/>
<circle cx="1076.3" cy="552.9" r="4.5"/>
<circle cx="1076.5" cy="556.5" r="4.5"/>
<circle cx="1077.5" cy="560" r="4.5"/>
<circle cx="1077" cy="563.5" r="4.5"/>
<circle cx="1079" cy="566" r="4.5"/>
<circle cx="1080.2" cy="570" r="4.5"/>
<circle cx="1080.5" cy="574" r="4.5"/>
<circle cx="1080.5" cy="578" r="4.5"/>
<circle cx="1080.2" cy="583.7" r="4.5"/>
<circle cx="1076.5" cy="561.5" r="4.5"/>
<circle cx="1098.3" cy="553.2" r="4.5"/>
<circle cx="1097.9" cy="562.3" r="4.5"/>
<circle cx="1098.3" cy="577" r="4.5"/>
<circle cx="1144.5" cy="510.1" r="4.5"/>
<circle cx="1143" cy="536.2" r="4.5"/>
<circle cx="1142.1" cy="538.9" r="4.5"/>
<circle cx="1144.5" cy="544.2" r="4.5"/>
<circle cx="1142.3" cy="553.6" r="4.5"/>
<circle cx="1147.4" cy="579.4" r="4.5"/>
<circle cx="1147.4" cy="588.4" r="4.5"/>
<circle cx="1147.4" cy="592.4" r="4.5"/>
<circle cx="1191.6" cy="586.4" r="4.5"/>
<circle cx="1232.4" cy="522.2" r="4.5"/>
<circle cx="1233.7" cy="527.5" r="4.5"/>
<circle cx="1235.7" cy="530.9" r="4.5"/>
<circle cx="1232.4" cy="531.5" r="4.5"/>
<circle cx="1235.3" cy="541.6" r="4.5"/>
<circle cx="1251.8" cy="526.9" r="4.5"/>
<circle cx="1254.4" cy="530.2" r="4.5"/>
<circle cx="1253.1" cy="535.6" r="4.5"/>
<circle cx="1253.1" cy="539.6" r="4.5"/>
<circle cx="1252.4" cy="552.3" r="4.5"/>
<circle cx="1253.1" cy="557" r="4.5"/>
<circle cx="1253.1" cy="559.6" r="4.5"/>
<circle cx="1274.5" cy="540.9" r="4.5"/>
<circle cx="1274.5" cy="544.9" r="4.5"/>
<circle cx="1275.2" cy="548.9" r="4.5"/>
<circle cx="1275.2" cy="553.6" r="4.5"/>
</g>
<rect x="920.5" y="391.5" width="684" height="262" fill="none" stroke="#000" stroke-width="1.1"/>
<line x1="920.5" y1="653.5" x2="920.5" y2="656.68" stroke="#000" stroke-width="1"/>
<text x="920.8" y="671.85" font-size="13.86" text-anchor="middle" textLength="17.03" lengthAdjust="spacingAndGlyphs">31</text>
<line x1="942.5" y1="653.5" x2="942.5" y2="658.66" stroke="#000" stroke-width="1.1"/>
<text x="942.86" y="675.8" font-size="16.64" text-anchor="middle" textLength="20.38" lengthAdjust="spacingAndGlyphs">01</text>
<text x="942.86" y="692.7" font-size="16.64" text-anchor="middle" textLength="68.24" lengthAdjust="spacingAndGlyphs">2025-11</text>
<line x1="964.5" y1="653.5" x2="964.5" y2="656.68" stroke="#000" stroke-width="1"/>
<text x="964.92" y="671.85" font-size="13.86" text-anchor="middle" textLength="17.03" lengthAdjust="spacingAndGlyphs">02</text>
<line x1="986.5" y1="653.5" x2="986.5" y2="656.68" stroke="#000" stroke-width="1"/>
<text x="986.98" y="671.85" font-size="13.86" text-anchor="middle" textLength="17.03" lengthAdjust="spacingAndGlyphs">03</text>
<line x1="1009.5" y1="653.5" x2="1009.5" y2="656.68" stroke="#000" stroke-width="1"/>
<text x="1009.04" y="671.85" font-size="13.86" text-anchor="middle" textLength="17.03" lengthAdjust="spacingAndGlyphs">04</text>
<line x1="1031.5" y1="653.5" x2="1031.5" y2="656.68" stroke="#000" stroke-width="1"/>
<text x="1031.1" y="671.85" font-size="13.86" text-anchor="middle" textLength="17.03" lengthAdjust="spacingAndGlyphs">05</text>
<line x1="1053.5" y1="653.5" x2="1053.5" y2="656.68" stroke="#000" stroke-width="1"/>
<text x="1053.16" y="671.85" font-size="13.86" text-anchor="middle" textLength="17.03" lengthAdjust="spacingAndGlyphs">06</text>
<line x1="1075.5" y1="653.5" x2="1075.5" y2="656.68" stroke="#000" stroke-width="1"/>
<text x="1075.22" y="671.85" font-size="13.86" text-anchor="middle" textLength="17.03" lengthAdjust="spacingAndGlyphs">07</text>
<line x1="1097.5" y1="653.5" x2="1097.5" y2="656.68" stroke="#000" stroke-width="1"/>
<text x="1097.28" y="671.85" font-size="13.86" text-anchor="middle" textLength="17.03" lengthAdjust="spacingAndGlyphs">08</text>
<line x1="1119.5" y1="653.5" x2="1119.5" y2="656.68" stroke="#000" stroke-width="1"/>
<text x="1119.34" y="671.85" font-size="13.86" text-anchor="middle" textLength="17.03" lengthAdjust="spacingAndGlyphs">09</text>
<line x1="1141.5" y1="653.5" x2="1141.5" y2="656.68" stroke="#000" stroke-width="1"/>
<text x="1141.4" y="671.85" font-size="13.86" text-anchor="middle" textLength="17.03" lengthAdjust="spacingAndGlyphs">10</text>
<line x1="1163.5" y1="653.5" x2="1163.5" y2="656.68" stroke="#000" stroke-width="1"/>
<text x="1163.46" y="671.85" font-size="13.86" text-anchor="middle" textLength="17.03" lengthAdjust="spacingAndGlyphs">11</text>
<line x1="1185.5" y1="653.5" x2="1185.5" y2="656.68" stroke="#000" stroke-width="1"/>
<text x="1185.52" y="671.85" font-size="13.86" text-anchor="middle" textLength="17.03" lengthAdjust="spacingAndGlyphs">12</text>
<line x1="1207.5" y1="653.5" x2="1207.5" y2="656.68" stroke="#000" stroke-width="1"/>
<text x="1207.58" y="671.85" font-size="13.86" text-anchor="middle" textLength="17.03" lengthAdjust="spacingAndGlyphs">13</text>
<line x1="1229.5" y1="653.5" x2="1229.5" y2="656.68" stroke="#000" stroke-width="1"/>
<text x="1229.64" y="671.85" font-size="13.86" text-anchor="middle" textLength="17.03" lengthAdjust="spacingAndGlyphs">14</text>
<line x1="1251.5" y1="653.5" x2="1251.5" y2="656.68" stroke="#000" stroke-width="1"/>
<text x="1251.7" y="671.85" font-size="13.86" text-anchor="middle" textLength="17.03" lengthAdjust="spacingAndGlyphs">15</text>
<line x1="1273.5" y1="653.5" x2="1273.5" y2="656.68" stroke="#000" stroke-width="1"/>
<text x="1273.76" y="671.85" font-size="13.86" text-anchor="middle" textLength="17.03" lengthAdjust="spacingAndGlyphs">16</text>
<line x1="1295.5" y1="653.5" x2="1295.5" y2="656.68" stroke="#000" stroke-width="1"/>
<text x="1295.82" y="671.85" font-size="13.86" text-anchor="middle" textLength="17.03" lengthAdjust="spacingAndGlyphs">17</text>
<line x1="1317.5" y1="653.5" x2="1317.5" y2="656.68" stroke="#000" stroke-width="1"/>
<text x="1317.88" y="671.85" font-size="13.86" text-anchor="middle" textLength="17.03" lengthAdjust="spacingAndGlyphs">18</text>
<line x1="1339.5" y1="653.5" x2="1339.5" y2="656.68" stroke="#000" stroke-width="1"/>
<text x="1339.94" y="671.85" font-size="13.86" text-anchor="middle" textLength="17.03" lengthAdjust="spacingAndGlyphs">19</text>
<line x1="1362.5" y1="653.5" x2="1362.5" y2="656.68" stroke="#000" stroke-width="1"/>
<text x="1362" y="671.85" font-size="13.86" text-anchor="middle" textLength="17.03" lengthAdjust="spacingAndGlyphs">20</text>
<line x1="1384.5" y1="653.5" x2="1384.5" y2="656.68" stroke="#000" stroke-width="1"/>
<text x="1384.06" y="671.85" font-size="13.86" text-anchor="middle" textLength="17.03" lengthAdjust="spacingAndGlyphs">21</text>
<line x1="1406.5" y1="653.5" x2="1406.5" y2="656.68" stroke="#000" stroke-width="1"/>
<text x="1406.12" y="671.85" font-size="13.86" text-anchor="middle" textLength="17.03" lengthAdjust="spacingAndGlyphs">22</text>
<line x1="1428.5" y1="653.5" x2="1428.5" y2="656.68" stroke="#000" stroke-width="1"/>
<text x="1428.18" y="671.85" font-size="13.86" text-anchor="middle" textLength="17.03" lengthAdjust="spacingAndGlyphs">23</text>
<line x1="1450.5" y1="653.5" x2="1450.5" y2="656.68" stroke="#000" stroke-width="1"/>
<text x="1450.24" y="671.85" font-size="13.86" text-anchor="middle" textLength="17.03" lengthAdjust="spacingAndGlyphs">24</text>
<line x1="1472.5" y1="653.5" x2="1472.5" y2="656.68" stroke="#000" stroke-width="1"/>
<text x="1472.3" y="671.85" font-size="13.86" text-anchor="middle" textLength="17.03" lengthAdjust="spacingAndGlyphs">25</text>
<line x1="1494.5" y1="653.5" x2="1494.5" y2="656.68" stroke="#000" stroke-width="1"/>
<text x="1494.36" y="671.85" font-size="13.86" text-anchor="middle" textLength="17.03" lengthAdjust="spacingAndGlyphs">26</text>
<line x1="1516.5" y1="653.5" x2="1516.5" y2="656.68" stroke="#000" stroke-width="1"/>
<text x="1516.42" y="671.85" font-size="13.86" text-anchor="middle" textLength="17.03" lengthAdjust="spacingAndGlyphs">27</text>
<line x1="1538.5" y1="653.5" x2="1538.5" y2="656.68" stroke="#000" stroke-width="1"/>
<text x="1538.48" y="671.85" font-size="13.86" text-anchor="middle" textLength="17.03" lengthAdjust="spacingAndGlyphs">28</text>
<line x1="1560.5" y1="653.5" x2="1560.5" y2="656.68" stroke="#000" stroke-width="1"/>
<text x="1560.54" y="671.85" font-size="13.86" text-anchor="middle" textLength="17.03" lengthAdjust="spacingAndGlyphs">29</text>
<line x1="1582.5" y1="653.5" x2="1582.5" y2="656.68" stroke="#000" stroke-width="1"/>
<text x="1582.6" y="671.85" font-size="13.86" text-anchor="middle" textLength="17.03" lengthAdjust="spacingAndGlyphs">30</text>
<line x1="1604.5" y1="653.5" x2="1604.5" y2="658.66" stroke="#000" stroke-width="1.1"/>
<text x="1604.66" y="675.8" font-size="16.64" text-anchor="middle" textLength="20.38" lengthAdjust="spacingAndGlyphs">01</text>
<text x="1604.66" y="692.7" font-size="16.64" text-anchor="middle" textLength="68.24" lengthAdjust="spacingAndGlyphs">2025-12</text>
<text x="1262.73" y="716.9" font-size="20.22" text-anchor="middle" textLength="48.36" lengthAdjust="spacingAndGlyphs">Days</text>
<line x1="942.5" y1="740.5" x2="942.5" y2="1002.5" stroke="#dadada" stroke-width="1"/>
<line x1="964.5" y1="740.5" x2="964.5" y2="1002.5" stroke="#dadada" stroke-width="1"/>
<line x1="986.5" y1="740.5" x2="986.5" y2="1002.5" stroke="#dadada" stroke-width="1"/>
<line x1="1009.5" y1="740.5" x2="1009.5" y2="1002.5" stroke="#dadada" stroke-width="1"/>
<line x1="1031.5" y1="740.5" x2="1031.5" y2="1002.5" stroke="#dadada" stroke-width="1"/>
<line x1="1053.5" y1="740.5" x2="1053.5" y2="1002.5" stroke="#dadada" stroke-width="1"/>
<line x1="1075.5" y1="740.5" x2="1075.5" y2="1002.5" stroke="#dadada" stroke-width="1"/>
<line x1="1097.5" y1="740.5" x2="1097.5" y2="1002.5" stroke="#dadada" stroke-width="1"/>
<line x1="1119.5" y1="740.5" x2="1119.5" y2="1002.5" stroke="#dadada" stroke-width="1"/>
<line x1="1141.5" y1="740.5" x2="1141.5" y2="1002.5" stroke="#dadada" stroke-width="1"/>
<line x1="1163.5" y1="740.5" x2="1163.5" y2="1002.5" stroke="#dadada" stroke-width="1"/>
<line x1="1185.5" y1="740.5" x2="1185.5" y2="1002.5" stroke="#dadada" stroke-width="1"/>
<line x1="1207.5" y1="740.5" x2="1207.5" y2="1002.5" stroke="#dadada" stroke-width="1"/>
<line x1="1229.5" y1="740.5" x2="1229.5" y2="1002.5" stroke="#dadada" stroke-width="1"/>
<line x1="1251.5" y1="740.5" x2="1251.5" y2="1002.5" stroke="#dadada" stroke-width="1"/>
<line x1="1273.5" y1="740.5" x2="1273.5" y2="1002.5" stroke="#dadada" stroke-width="1"/>
<line x1="1295.5" y1="740.5" x2="1295.5" y2="1002.5" stroke="#dadada" stroke-width="1"/>
<line x1="1317.5" y1="740.5" x2="1317.5" y2="1002.5" stroke="#dadada" stroke-width="1"/>
<line x1="1339.5" y1="740.5" x2="1339.5" y2="1002.5" stroke="#dadada" stroke-width="1"/>
<line x1="1362.5" y1="740.5" x2="1362.5" y2="1002.5" stroke="#dadada" stroke-width="1"/>
<line x1="1384.5" y1="740.5" x2="1384.5" y2="1002.5" stroke="#dadada" stroke-width="1"/>
<line x1="1406.5" y1="740.5" x2="1406.5" y2="1002.5" stroke="#dadada" stroke-width="1"/>
<line x1="1428.5" y1="740.5" x2="1428.5" y2="1002.5" stroke="#dadada" stroke-width="1"/>
<line x1="1450.5" y1="740.5" x2="1450.5" y2="1002.5" stroke="#dadada" stroke-width="1"/>
<line x1="1472.5" y1="740.5" x2="1472.5" y2="1002.5" stroke="#dadada" stroke-width="1"/>
<line x1="1494.5" y1="740.5" x2="1494.5" y2="1002.5" stroke="#dadada" stroke-width="1"/>
<line x1="1516.5" y1="740.5" x2="1516.5" y2="1002.5" stroke="#dadada" stroke-width="1"/>
<line x1="1538.5" y1="740.5" x2="1538.5" y2="1002.5" stroke="#dadada" stroke-width="1"/>
<line x1="1560.5" y1="740.5" x2="1560.5" y2="1002.5" stroke="#dadada" stroke-width="1"/>
<line x1="1582.5" y1="740.5" x2="1582.5" y2="1002.5" stroke="#dadada" stroke-width="1"/>
<line x1="915.34" y1="1002.5" x2="920.5" y2="1002.5" stroke="#000" stroke-width="1.1"/>
<text x="910.34" y="1008.8" font-size="16.64" text-anchor="end" textLength="25.47" lengthAdjust="spacingAndGlyphs">0.5</text>
<line x1="920.8" y1="950.5" x2="1604.66" y2="950.5" stroke="#dadada" stroke-width="1"/>
<line x1="915.34" y1="950.5" x2="920.5" y2="950.5" stroke="#000" stroke-width="1.1"/>
<text x="910.34" y="956.4" font-size="16.64" text-anchor="end" textLength="25.47" lengthAdjust="spacingAndGlyphs">0.6</text>
<line x1="920.8" y1="897.5" x2="1604.66" y2="897.5" stroke="#dadada" stroke-width="1"/>
<line x1="915.34" y1="897.5" x2="920.5" y2="897.5" stroke="#000" stroke-width="1.1"/>
<text x="910.34" y="904" font-size="16.64" text-anchor="end" textLength="25.47" lengthAdjust="spacingAndGlyphs">0.7</text>
<line x1="920.8" y1="845.5" x2="1604.66" y2="845.5" stroke="#dadada" stroke-width="1"/>
<line x1="915.34" y1="845.5" x2="920.5" y2="845.5" stroke="#000" stroke-width="1.1"/>
<text x="910.34" y="851.6" font-size="16.64" text-anchor="end" textLength="25.47" lengthAdjust="spacingAndGlyphs">0.8</text>
<line x1="920.8" y1="792.5" x2="1604.66" y2="792.5" stroke="#dadada" stroke-width="1"/>
<line x1="915.34" y1="792.5" x2="920.5" y2="792.5" stroke="#000" stroke-width="1.1"/>
<text x="910.34" y="799.2" font-size="16.64" text-anchor="end" textLength="25.47" lengthAdjust="spacingAndGlyphs">0.9</text>
<line x1="915.34" y1="740.5" x2="920.5" y2="740.5" stroke="#000" stroke-width="1.1"/>
<text x="910.34" y="746.8" font-size="16.64" text-anchor="end" textLength="25.47" lengthAdjust="spacingAndGlyphs">1.0</text>
<clipPath id="c6"><rect x="920.8" y="740.5" width="683.86" height="262"/></clipPath>
<g clip-path="url(#c6)" fill="#2ca02c">
<circle cx="948.4" cy="742.9" r="4.5"/>
<circle cx="949" cy="745.9" r="4.5"/>
<circle cx="948.4" cy="751.9" r="4.5"/>
<circle cx="949" cy="754.3" r="4.5"/>
<circle cx="948.4" cy="756.8" r="4.5"/>
<circle cx="948.4" cy="795.5" r="4.5"/>
<circle cx="949.4" cy="821.5" r="4.5"/>
<circle cx="948.4" cy="825.1" r="4.5"/>
<circle cx="971.4" cy="824.5" r="4.5"/>
<circle cx="992" cy="742.3" r="4.5"/>
<circle cx="991.3" cy="745.9" r="4.5"/>
<circle cx="990.7" cy="752.5" r="4.5"/>
<circle cx="991.3" cy="756.8" r="4.5"/>
<circle cx="992.3" cy="781.3" r="4.5"/>
<circle cx="992.3" cy="789.7" r="4.5"/>
<circle cx="992.3" cy="811.2" r="4.5"/>
<circle cx="992" cy="814.8" r="4.5"/>
<circle cx="991.3" cy="820.9" r="4.5"/>
<circle cx="990.1" cy="841.4" r="4.5"/>
<circle cx="991.3" cy="842.6" r="4.5"/>
<circle cx="989.5" cy="849.3" r="4.5"/>
<circle cx="1010.7" cy="742.9" r="4.5"/>
<circle cx="1009.5" cy="786.4" r="4.5"/>
<circle cx="1011.3" cy="820.5" r="4.5"/>
<circle cx="1010.4" cy="848.4" r="4.5"/>
<circle cx="1009.5" cy="886.5" r="4.5"/>
<circle cx="1059.4" cy="791.5" r="4.5"/>
<circle cx="1059.4" cy="849.3" r="4.5"/>
<circle cx="1078.4" cy="742.9" r="4.5"/>
<circle cx="1076" cy="744.5" r="4.5"/>
<circle cx="1081.3" cy="744.5" r="4.5"/>
<circle cx="1076" cy="753.1" r="4.5"/>
<circle cx="1080.8" cy="758" r="4.5"/>
<circle cx="1081.4" cy="765.8" r="4.5"/>
<circle cx="1079.6" cy="785.8" r="4.5"/>
<circle cx="1079.6" cy="789.4" r="4.5"/>
<circle cx="1079.6" cy="796.7" r="4.5"/>
<circle cx="1076" cy="800.9" r="4.5"/>
<circle cx="1076" cy="807.6" r="4.5"/>
<circle cx="1076.6" cy="813.6" r="4.5"/>
<circle cx="1077.2" cy="819.6" r="4.5"/>
<circle cx="1080.8" cy="821.5" r="4.5"/>
<circle cx="1077.2" cy="826.3" r="4.5"/>
<circle cx="1076.6" cy="849.3" r="4.5"/>
<circle cx="1075.2" cy="824" r="4.5"/>
<circle cx="1079" cy="828" r="4.5"/>
<circle cx="1081" cy="817.5" r="4.5"/>
<circle cx="1075.2" cy="742.2" r="4.5"/>
<circle cx="1082.8" cy="743.2" r="4.5"/>
<circle cx="1098.4" cy="743.5" r="4.5"/>
<circle cx="1098.4" cy="758.3" r="4.5"/>
<circle cx="1097.5" cy="777.3" r="4.5"/>
<circle cx="1144.2" cy="741.7" r="4.5"/>
<circle cx="1147.2" cy="744.7" r="4.5"/>
<circle cx="1147.6" cy="753.7" r="4.5"/>
<circle cx="1147.6" cy="771.3" r="4.5"/>
<circle cx="1143.6" cy="793" r="4.5"/>
<circle cx="1142.4" cy="798.5" r="4.5"/>
<circle cx="1144.8" cy="825.7" r="4.5"/>
<circle cx="1142.4" cy="832.9" r="4.5"/>
<circle cx="1142.4" cy="855.3" r="4.5"/>
<circle cx="1191.6" cy="803.3" r="4.5"/>
<circle cx="1233.7" cy="741.7" r="4.5"/>
<circle cx="1235.5" cy="745.3" r="4.5"/>
<circle cx="1232" cy="742.5" r="4.5"/>
<circle cx="1233.3" cy="775.5" r="4.5"/>
<circle cx="1233.3" cy="825.7" r="4.5"/>
<circle cx="1232.5" cy="831.1" r="4.5"/>
<circle cx="1233.7" cy="833.5" r="4.5"/>
<circle cx="1235.5" cy="844.4" r="4.5"/>
<circle cx="1252.4" cy="742.9" r="4.5"/>
<circle cx="1251.2" cy="750.7" r="4.5"/>
<circle cx="1253.6" cy="779.1" r="4.5"/>
<circle cx="1254.2" cy="788.2" r="4.5"/>
<circle cx="1253" cy="793" r="4.5"/>
<circle cx="1254.2" cy="802.7" r="4.5"/>
<circle cx="1254.2" cy="807.6" r="4.5"/>
<circle cx="1253.6" cy="827.5" r="4.5"/>
<circle cx="1275.6" cy="743.5" r="4.5"/>
<circle cx="1274.5" cy="767.4" r="4.5"/>
<circle cx="1274.5" cy="789.2" r="4.5"/>
<circle cx="1274.5" cy="798.5" r="4.5"/>
<circle cx="1274.5" cy="827.5" r="4.5"/>
</g>
<rect x="920.5" y="740.5" width="684" height="262" fill="none" stroke="#000" stroke-width="1.1"/>
<line x1="920.5" y1="1002.5" x2="920.5" y2="1005.68" stroke="#000" stroke-width="1"/>
<text x="920.8" y="1022.05" font-size="13.86" text-anchor="middle" textLength="17.03" lengthAdjust="spacingAndGlyphs">31</text>
<line x1="942.5" y1="1002.5" x2="942.5" y2="1007.66" stroke="#000" stroke-width="1.1"/>
<text x="942.86" y="1024.9" font-size="16.64" text-anchor="middle" textLength="20.38" lengthAdjust="spacingAndGlyphs">01</text>
<text x="942.86" y="1041.8" font-size="16.64" text-anchor="middle" textLength="68.24" lengthAdjust="spacingAndGlyphs">2025-11</text>
<line x1="964.5" y1="1002.5" x2="964.5" y2="1005.68" stroke="#000" stroke-width="1"/>
<text x="964.92" y="1022.05" font-size="13.86" text-anchor="middle" textLength="17.03" lengthAdjust="spacingAndGlyphs">02</text>
<line x1="986.5" y1="1002.5" x2="986.5" y2="1005.68" stroke="#000" stroke-width="1"/>
<text x="986.98" y="1022.05" font-size="13.86" text-anchor="middle" textLength="17.03" lengthAdjust="spacingAndGlyphs">03</text>
<line x1="1009.5" y1="1002.5" x2="1009.5" y2="1005.68" stroke="#000" stroke-width="1"/>
<text x="1009.04" y="1022.05" font-size="13.86" text-anchor="middle" textLength="17.03" lengthAdjust="spacingAndGlyphs">04</text>
<line x1="1031.5" y1="1002.5" x2="1031.5" y2="1005.68" stroke="#000" stroke-width="1"/>
<text x="1031.1" y="1022.05" font-size="13.86" text-anchor="middle" textLength="17.03" lengthAdjust="spacingAndGlyphs">05</text>
<line x1="1053.5" y1="1002.5" x2="1053.5" y2="1005.68" stroke="#000" stroke-width="1"/>
<text x="1053.16" y="1022.05" font-size="13.86" text-anchor="middle" textLength="17.03" lengthAdjust="spacingAndGlyphs">06</text>
<line x1="1075.5" y1="1002.5" x2="1075.5" y2="1005.68" stroke="#000" stroke-width="1"/>
<text x="1075.22" y="1022.05" font-size="13.86" text-anchor="middle" textLength="17.03" lengthAdjust="spacingAndGlyphs">07</text>
<line x1="1097.5" y1="1002.5" x2="1097.5" y2="1005.68" stroke="#000" stroke-width="1"/>
<text x="1097.28" y="1022.05" font-size="13.86" text-anchor="middle" textLength="17.03" lengthAdjust="spacingAndGlyphs">08</text>
<line x1="1119.5" y1="1002.5" x2="1119.5" y2="1005.68" stroke="#000" stroke-width="1"/>
<text x="1119.34" y="1022.05" font-size="13.86" text-anchor="middle" textLength="17.03" lengthAdjust="spacingAndGlyphs">09</text>
<line x1="1141.5" y1="1002.5" x2="1141.5" y2="1005.68" stroke="#000" stroke-width="1"/>
<text x="1141.4" y="1022.05" font-size="13.86" text-anchor="middle" textLength="17.03" lengthAdjust="spacingAndGlyphs">10</text>
<line x1="1163.5" y1="1002.5" x2="1163.5" y2="1005.68" stroke="#000" stroke-width="1"/>
<text x="1163.46" y="1022.05" font-size="13.86" text-anchor="middle" textLength="17.03" lengthAdjust="spacingAndGlyphs">11</text>
<line x1="1185.5" y1="1002.5" x2="1185.5" y2="1005.68" stroke="#000" stroke-width="1"/>
<text x="1185.52" y="1022.05" font-size="13.86" text-anchor="middle" textLength="17.03" lengthAdjust="spacingAndGlyphs">12</text>
<line x1="1207.5" y1="1002.5" x2="1207.5" y2="1005.68" stroke="#000" stroke-width="1"/>
<text x="1207.58" y="1022.05" font-size="13.86" text-anchor="middle" textLength="17.03" lengthAdjust="spacingAndGlyphs">13</text>
<line x1="1229.5" y1="1002.5" x2="1229.5" y2="1005.68" stroke="#000" stroke-width="1"/>
<text x="1229.64" y="1022.05" font-size="13.86" text-anchor="middle" textLength="17.03" lengthAdjust="spacingAndGlyphs">14</text>
<line x1="1251.5" y1="1002.5" x2="1251.5" y2="1005.68" stroke="#000" stroke-width="1"/>
<text x="1251.7" y="1022.05" font-size="13.86" text-anchor="middle" textLength="17.03" lengthAdjust="spacingAndGlyphs">15</text>
<line x1="1273.5" y1="1002.5" x2="1273.5" y2="1005.68" stroke="#000" stroke-width="1"/>
<text x="1273.76" y="1022.05" font-size="13.86" text-anchor="middle" textLength="17.03" lengthAdjust="spacingAndGlyphs">16</text>
<line x1="1295.5" y1="1002.5" x2="1295.5" y2="1005.68" stroke="#000" stroke-width="1"/>
<text x="1295.82" y="1022.05" font-size="13.86" text-anchor="middle" textLength="17.03" lengthAdjust="spacingAndGlyphs">17</text>
<line x1="1317.5" y1="1002.5" x2="1317.5" y2="1005.68" stroke="#000" stroke-width="1"/>
<text x="1317.88" y="1022.05" font-size="13.86" text-anchor="middle" textLength="17.03" lengthAdjust="spacingAndGlyphs">18</text>
<line x1="1339.5" y1="1002.5" x2="1339.5" y2="1005.68" stroke="#000" stroke-width="1"/>
<text x="1339.94" y="1022.05" font-size="13.86" text-anchor="middle" textLength="17.03" lengthAdjust="spacingAndGlyphs">19</text>
<line x1="1362.5" y1="1002.5" x2="1362.5" y2="1005.68" stroke="#000" stroke-width="1"/>
<text x="1362" y="1022.05" font-size="13.86" text-anchor="middle" textLength="17.03" lengthAdjust="spacingAndGlyphs">20</text>
<line x1="1384.5" y1="1002.5" x2="1384.5" y2="1005.68" stroke="#000" stroke-width="1"/>
<text x="1384.06" y="1022.05" font-size="13.86" text-anchor="middle" textLength="17.03" lengthAdjust="spacingAndGlyphs">21</text>
<line x1="1406.5" y1="1002.5" x2="1406.5" y2="1005.68" stroke="#000" stroke-width="1"/>
<text x="1406.12" y="1022.05" font-size="13.86" text-anchor="middle" textLength="17.03" lengthAdjust="spacingAndGlyphs">22</text>
<line x1="1428.5" y1="1002.5" x2="1428.5" y2="1005.68" stroke="#000" stroke-width="1"/>
<text x="1428.18" y="1022.05" font-size="13.86" text-anchor="middle" textLength="17.03" lengthAdjust="spacingAndGlyphs">23</text>
<line x1="1450.5" y1="1002.5" x2="1450.5" y2="1005.68" stroke="#000" stroke-width="1"/>
<text x="1450.24" y="1022.05" font-size="13.86" text-anchor="middle" textLength="17.03" lengthAdjust="spacingAndGlyphs">24</text>
<line x1="1472.5" y1="1002.5" x2="1472.5" y2="1005.68" stroke="#000" stroke-width="1"/>
<text x="1472.3" y="1022.05" font-size="13.86" text-anchor="middle" textLength="17.03" lengthAdjust="spacingAndGlyphs">25</text>
<line x1="1494.5" y1="1002.5" x2="1494.5" y2="1005.68" stroke="#000" stroke-width="1"/>
<text x="1494.36" y="1022.05" font-size="13.86" text-anchor="middle" textLength="17.03" lengthAdjust="spacingAndGlyphs">26</text>
<line x1="1516.5" y1="1002.5" x2="1516.5" y2="1005.68" stroke="#000" stroke-width="1"/>
<text x="1516.42" y="1022.05" font-size="13.86" text-anchor="middle" textLength="17.03" lengthAdjust="spacingAndGlyphs">27</text>
<line x1="1538.5" y1="1002.5" x2="1538.5" y2="1005.68" stroke="#000" stroke-width="1"/>
<text x="1538.48" y="1022.05" font-size="13.86" text-anchor="middle" textLength="17.03" lengthAdjust="spacingAndGlyphs">28</text>
<line x1="1560.5" y1="1002.5" x2="1560.5" y2="1005.68" stroke="#000" stroke-width="1"/>
<text x="1560.54" y="1022.05" font-size="13.86" text-anchor="middle" textLength="17.03" lengthAdjust="spacingAndGlyphs">29</text>
<line x1="1582.5" y1="1002.5" x2="1582.5" y2="1005.68" stroke="#000" stroke-width="1"/>
<text x="1582.6" y="1022.05" font-size="13.86" text-anchor="middle" textLength="17.03" lengthAdjust="spacingAndGlyphs">30</text>
<line x1="1604.5" y1="1002.5" x2="1604.5" y2="1007.66" stroke="#000" stroke-width="1.1"/>
<text x="1604.66" y="1024.9" font-size="16.64" text-anchor="middle" textLength="20.38" lengthAdjust="spacingAndGlyphs">01</text>
<text x="1604.66" y="1041.8" font-size="16.64" text-anchor="middle" textLength="68.24" lengthAdjust="spacingAndGlyphs">2025-12</text>
<text x="1262.73" y="1066" font-size="20.22" text-anchor="middle" textLength="48.36" lengthAdjust="spacingAndGlyphs">Days</text>
<text transform="translate(46.8 172.95) rotate(-90)" font-size="20.22" text-anchor="middle" textLength="240.5" lengthAdjust="spacingAndGlyphs">Aerosol optical thickness</text>
<text transform="translate(873.9 172.95) rotate(-90)" font-size="20.22" text-anchor="middle" textLength="240.5" lengthAdjust="spacingAndGlyphs">Aerosol optical thickness</text>
<text transform="translate(44.8 522.5) rotate(-90)" font-size="20.22" text-anchor="middle" textLength="191.25" lengthAdjust="spacingAndGlyphs">Ångström exponent</text>
<text transform="translate(871.9 522.5) rotate(-90)" font-size="20.22" text-anchor="middle" textLength="191.25" lengthAdjust="spacingAndGlyphs">Ångström exponent</text>
<text transform="translate(47.2 871.5) rotate(-90)" font-size="20.22" text-anchor="middle" textLength="235.2" lengthAdjust="spacingAndGlyphs">Single scattering albedo</text>
<text transform="translate(874.3 871.5) rotate(-90)" font-size="20.22" text-anchor="middle" textLength="235.2" lengthAdjust="spacingAndGlyphs">Single scattering albedo</text>
<text transform="translate(32.8 1222.3) rotate(-90)" font-size="20.22" text-anchor="middle" textLength="263.9" lengthAdjust="spacingAndGlyphs">Size distribution (μm<tspan font-size="14.15" dy="-6.6">3</tspan><tspan dy="6.6">/μm</tspan><tspan font-size="14.15" dy="-6.6">2</tspan><tspan dy="6.6">)</tspan></text>
<text transform="translate(859.8 1222.3) rotate(-90)" font-size="20.22" text-anchor="middle" textLength="263.9" lengthAdjust="spacingAndGlyphs">Size distribution (μm<tspan font-size="14.15" dy="-6.6">3</tspan><tspan dy="6.6">/μm</tspan><tspan font-size="14.15" dy="-6.6">2</tspan><tspan dy="6.6">)</tspan></text>
<line x1="137.5" y1="1090.6" x2="137.5" y2="1352.5" stroke="#dadada" stroke-width="1"/>
<line x1="162.5" y1="1090.6" x2="162.5" y2="1352.5" stroke="#dadada" stroke-width="1"/>
<line x1="180.5" y1="1090.6" x2="180.5" y2="1352.5" stroke="#dadada" stroke-width="1"/>
<line x1="194.5" y1="1090.6" x2="194.5" y2="1352.5" stroke="#dadada" stroke-width="1"/>
<line x1="205.5" y1="1090.6" x2="205.5" y2="1352.5" stroke="#dadada" stroke-width="1"/>
<line x1="215.5" y1="1090.6" x2="215.5" y2="1352.5" stroke="#dadada" stroke-width="1"/>
<line x1="223.5" y1="1090.6" x2="223.5" y2="1352.5" stroke="#dadada" stroke-width="1"/>
<line x1="231.5" y1="1090.6" x2="231.5" y2="1352.5" stroke="#dadada" stroke-width="1"/>
<line x1="237.5" y1="1090.6" x2="237.5" y2="1352.5" stroke="#dadada" stroke-width="1"/>
<line x1="281.5" y1="1090.6" x2="281.5" y2="1352.5" stroke="#dadada" stroke-width="1"/>
<line x1="306.5" y1="1090.6" x2="306.5" y2="1352.5" stroke="#dadada" stroke-width="1"/>
<line x1="324.5" y1="1090.6" x2="324.5" y2="1352.5" stroke="#dadada" stroke-width="1"/>
<line x1="338.5" y1="1090.6" x2="338.5" y2="1352.5" stroke="#dadada" stroke-width="1"/>
<line x1="349.5" y1="1090.6" x2="349.5" y2="1352.5" stroke="#dadada" stroke-width="1"/>
<line x1="359.5" y1="1090.6" x2="359.5" y2="1352.5" stroke="#dadada" stroke-width="1"/>
<line x1="367.5" y1="1090.6" x2="367.5" y2="1352.5" stroke="#dadada" stroke-width="1"/>
<line x1="375.5" y1="1090.6" x2="375.5" y2="1352.5" stroke="#dadada" stroke-width="1"/>
<line x1="381.5" y1="1090.6" x2="381.5" y2="1352.5" stroke="#dadada" stroke-width="1"/>
<line x1="425.5" y1="1090.6" x2="425.5" y2="1352.5" stroke="#dadada" stroke-width="1"/>
<line x1="450.5" y1="1090.6" x2="450.5" y2="1352.5" stroke="#dadada" stroke-width="1"/>
<line x1="468.5" y1="1090.6" x2="468.5" y2="1352.5" stroke="#dadada" stroke-width="1"/>
<line x1="482.5" y1="1090.6" x2="482.5" y2="1352.5" stroke="#dadada" stroke-width="1"/>
<line x1="493.5" y1="1090.6" x2="493.5" y2="1352.5" stroke="#dadada" stroke-width="1"/>
<line x1="503.5" y1="1090.6" x2="503.5" y2="1352.5" stroke="#dadada" stroke-width="1"/>
<line x1="511.5" y1="1090.6" x2="511.5" y2="1352.5" stroke="#dadada" stroke-width="1"/>
<line x1="519.5" y1="1090.6" x2="519.5" y2="1352.5" stroke="#dadada" stroke-width="1"/>
<line x1="525.5" y1="1090.6" x2="525.5" y2="1352.5" stroke="#dadada" stroke-width="1"/>
<line x1="569.5" y1="1090.6" x2="569.5" y2="1352.5" stroke="#dadada" stroke-width="1"/>
<line x1="594.5" y1="1090.6" x2="594.5" y2="1352.5" stroke="#dadada" stroke-width="1"/>
<line x1="612.5" y1="1090.6" x2="612.5" y2="1352.5" stroke="#dadada" stroke-width="1"/>
<line x1="88.34" y1="1352.5" x2="93.5" y2="1352.5" stroke="#000" stroke-width="1.1"/>
<text x="83.34" y="1358.8" font-size="16.64" text-anchor="end" textLength="35.66" lengthAdjust="spacingAndGlyphs">0.00</text>
<line x1="93.8" y1="1300.5" x2="626.46" y2="1300.5" stroke="#dadada" stroke-width="1"/>
<line x1="88.34" y1="1300.5" x2="93.5" y2="1300.5" stroke="#000" stroke-width="1.1"/>
<text x="83.34" y="1306.42" font-size="16.64" text-anchor="end" textLength="35.66" lengthAdjust="spacingAndGlyphs">0.02</text>
<line x1="93.8" y1="1247.5" x2="626.46" y2="1247.5" stroke="#dadada" stroke-width="1"/>
<line x1="88.34" y1="1247.5" x2="93.5" y2="1247.5" stroke="#000" stroke-width="1.1"/>
<text x="83.34" y="1254.04" font-size="16.64" text-anchor="end" textLength="35.66" lengthAdjust="spacingAndGlyphs">0.04</text>
<line x1="93.8" y1="1195.5" x2="626.46" y2="1195.5" stroke="#dadada" stroke-width="1"/>
<line x1="88.34" y1="1195.5" x2="93.5" y2="1195.5" stroke="#000" stroke-width="1.1"/>
<text x="83.34" y="1201.66" font-size="16.64" text-anchor="end" textLength="35.66" lengthAdjust="spacingAndGlyphs">0.06</text>
<line x1="93.8" y1="1142.5" x2="626.46" y2="1142.5" stroke="#dadada" stroke-width="1"/>
<line x1="88.34" y1="1142.5" x2="93.5" y2="1142.5" stroke="#000" stroke-width="1.1"/>
<text x="83.34" y="1149.28" font-size="16.64" text-anchor="end" textLength="35.66" lengthAdjust="spacingAndGlyphs">0.08</text>
<line x1="88.34" y1="1090.5" x2="93.5" y2="1090.5" stroke="#000" stroke-width="1.1"/>
<text x="83.34" y="1096.9" font-size="16.64" text-anchor="end" textLength="35.66" lengthAdjust="spacingAndGlyphs">0.10</text>
<clipPath id="c7"><rect x="93.8" y="1090.6" width="532.66" height="261.9"/></clipPath>
<g clip-path="url(#c7)">
<polyline fill="none" stroke="#0cff00" stroke-width="1.7" stroke-linejoin="round" points="104.6,1351.19 128.41,1351.19 152.22,1349.36 176.03,1344.38 199.84,1334.17 223.65,1314 247.46,1300.91 271.27,1313.48 295.08,1331.29 318.89,1344.64 342.7,1343.33 366.51,1327.88 390.32,1317.41 414.14,1318.98 437.95,1306.67 461.76,1299.33 485.57,1309.29 509.38,1332.07 533.19,1344.64 557,1349.36"/>
<g fill="#0cff00">
<circle cx="104.6" cy="1351.19" r="3.9"/>
<circle cx="128.41" cy="1351.19" r="3.9"/>
<circle cx="152.22" cy="1349.36" r="3.9"/>
<circle cx="176.03" cy="1344.38" r="3.9"/>
<circle cx="199.84" cy="1334.17" r="3.9"/>
<circle cx="223.65" cy="1314" r="3.9"/>
<circle cx="247.46" cy="1300.91" r="3.9"/>
<circle cx="271.27" cy="1313.48" r="3.9"/>
<circle cx="295.08" cy="1331.29" r="3.9"/>
<circle cx="318.89" cy="1344.64" r="3.9"/>
<circle cx="342.7" cy="1343.33" r="3.9"/>
<circle cx="366.51" cy="1327.88" r="3.9"/>
<circle cx="390.32" cy="1317.41" r="3.9"/>
<circle cx="414.14" cy="1318.98" r="3.9"/>
<circle cx="437.95" cy="1306.67" r="3.9"/>
<circle cx="461.76" cy="1299.33" r="3.9"/>
<circle cx="485.57" cy="1309.29" r="3.9"/>
<circle cx="509.38" cy="1332.07" r="3.9"/>
<circle cx="533.19" cy="1344.64" r="3.9"/>
<circle cx="557" cy="1349.36" r="3.9"/>
</g>
<polyline fill="none" stroke="#00ff30" stroke-width="1.7" stroke-linejoin="round" points="104.6,1351.19 128.41,1351.19 152.22,1349.36 176.03,1346.48 199.84,1339.93 223.65,1325.79 247.46,1309.02 271.27,1306.93 295.08,1327.62 318.89,1343.33 342.7,1345.95 366.51,1339.4 390.32,1326.31 414.14,1312.43 437.95,1304.31 461.76,1296.19 485.57,1304.31 509.38,1327.88 533.19,1343.6 557,1348.83"/>
<g fill="#00ff30">
<circle cx="104.6" cy="1351.19" r="3.9"/>
<circle cx="128.41" cy="1351.19" r="3.9"/>
<circle cx="152.22" cy="1349.36" r="3.9"/>
<circle cx="176.03" cy="1346.48" r="3.9"/>
<circle cx="199.84" cy="1339.93" r="3.9"/>
<circle cx="223.65" cy="1325.79" r="3.9"/>
<circle cx="247.46" cy="1309.02" r="3.9"/>
<circle cx="271.27" cy="1306.93" r="3.9"/>
<circle cx="295.08" cy="1327.62" r="3.9"/>
<circle cx="318.89" cy="1343.33" r="3.9"/>
<circle cx="342.7" cy="1345.95" r="3.9"/>
<circle cx="366.51" cy="1339.4" r="3.9"/>
<circle cx="390.32" cy="1326.31" r="3.9"/>
<circle cx="414.14" cy="1312.43" r="3.9"/>
<circle cx="437.95" cy="1304.31" r="3.9"/>
<circle cx="461.76" cy="1296.19" r="3.9"/>
<circle cx="485.57" cy="1304.31" r="3.9"/>
<circle cx="509.38" cy="1327.88" r="3.9"/>
<circle cx="533.19" cy="1343.6" r="3.9"/>
<circle cx="557" cy="1348.83" r="3.9"/>
</g>
<polyline fill="none" stroke="#00ff30" stroke-width="1.7" stroke-linejoin="round" points="104.6,1351.19 128.41,1351.19 152.22,1349.36 176.03,1347.26 199.84,1342.02 223.65,1330.24 247.46,1311.12 271.27,1310.6 295.08,1331.29 318.89,1345.17 342.7,1347.52 366.51,1341.76 390.32,1329.71 414.14,1316.62 437.95,1306.67 461.76,1297.5 485.57,1306.41 509.38,1329.45 533.19,1344.12 557,1349.1"/>
<g fill="#00ff30">
<circle cx="104.6" cy="1351.19" r="3.9"/>
<circle cx="128.41" cy="1351.19" r="3.9"/>
<circle cx="152.22" cy="1349.36" r="3.9"/>
<circle cx="176.03" cy="1347.26" r="3.9"/>
<circle cx="199.84" cy="1342.02" r="3.9"/>
<circle cx="223.65" cy="1330.24" r="3.9"/>
<circle cx="247.46" cy="1311.12" r="3.9"/>
<circle cx="271.27" cy="1310.6" r="3.9"/>
<circle cx="295.08" cy="1331.29" r="3.9"/>
<circle cx="318.89" cy="1345.17" r="3.9"/>
<circle cx="342.7" cy="1347.52" r="3.9"/>
<circle cx="366.51" cy="1341.76" r="3.9"/>
<circle cx="390.32" cy="1329.71" r="3.9"/>
<circle cx="414.14" cy="1316.62" r="3.9"/>
<circle cx="437.95" cy="1306.67" r="3.9"/>
<circle cx="461.76" cy="1297.5" r="3.9"/>
<circle cx="485.57" cy="1306.41" r="3.9"/>
<circle cx="509.38" cy="1329.45" r="3.9"/>
<circle cx="533.19" cy="1344.12" r="3.9"/>
<circle cx="557" cy="1349.1" r="3.9"/>
</g>
<polyline fill="none" stroke="#0cff00" stroke-width="1.7" stroke-linejoin="round" points="104.6,1351.19 128.41,1351.19 152.22,1349.62 176.03,1347.79 199.84,1343.07 223.65,1333.12 247.46,1317.67 271.27,1313.48 295.08,1334.69 318.89,1345.69 342.7,1347.52 366.51,1342.02 390.32,1328.93 414.14,1318.45 437.95,1310.6 461.76,1299.33 485.57,1309.29 509.38,1332.07 533.19,1344.64 557,1349.1"/>
<g fill="#0cff00">
<circle cx="104.6" cy="1351.19" r="3.9"/>
<circle cx="128.41" cy="1351.19" r="3.9"/>
<circle cx="152.22" cy="1349.62" r="3.9"/>
<circle cx="176.03" cy="1347.79" r="3.9"/>
<circle cx="199.84" cy="1343.07" r="3.9"/>
<circle cx="223.65" cy="1333.12" r="3.9"/>
<circle cx="247.46" cy="1317.67" r="3.9"/>
<circle cx="271.27" cy="1313.48" r="3.9"/>
<circle cx="295.08" cy="1334.69" r="3.9"/>
<circle cx="318.89" cy="1345.69" r="3.9"/>
<circle cx="342.7" cy="1347.52" r="3.9"/>
<circle cx="366.51" cy="1342.02" r="3.9"/>
<circle cx="390.32" cy="1328.93" r="3.9"/>
<circle cx="414.14" cy="1318.45" r="3.9"/>
<circle cx="437.95" cy="1310.6" r="3.9"/>
<circle cx="461.76" cy="1299.33" r="3.9"/>
<circle cx="485.57" cy="1309.29" r="3.9"/>
<circle cx="509.38" cy="1332.07" r="3.9"/>
<circle cx="533.19" cy="1344.64" r="3.9"/>
<circle cx="557" cy="1349.1" r="3.9"/>
</g>
<polyline fill="none" stroke="#00ff30" stroke-width="1.7" stroke-linejoin="round" points="104.6,1351.19 128.41,1351.19 152.22,1349.62 176.03,1348.05 199.84,1343.86 223.65,1335.21 247.46,1321.07 271.27,1316.1 295.08,1337.83 318.89,1346.48 342.7,1347.52 366.51,1343.07 390.32,1329.71 414.14,1318.98 437.95,1312.43 461.76,1304.31 485.57,1315.83 509.38,1334.43 533.19,1344.64 557,1349.36"/>
<g fill="#00ff30">
<circle cx="104.6" cy="1351.19" r="3.9"/>
<circle cx="128.41" cy="1351.19" r="3.9"/>
<circle cx="152.22" cy="1349.62" r="3.9"/>
<circle cx="176.03" cy="1348.05" r="3.9"/>
<circle cx="199.84" cy="1343.86" r="3.9"/>
<circle cx="223.65" cy="1335.21" r="3.9"/>
<circle cx="247.46" cy="1321.07" r="3.9"/>
<circle cx="271.27" cy="1316.1" r="3.9"/>
<circle cx="295.08" cy="1337.83" r="3.9"/>
<circle cx="318.89" cy="1346.48" r="3.9"/>
<circle cx="342.7" cy="1347.52" r="3.9"/>
<circle cx="366.51" cy="1343.07" r="3.9"/>
<circle cx="390.32" cy="1329.71" r="3.9"/>
<circle cx="414.14" cy="1318.98" r="3.9"/>
<circle cx="437.95" cy="1312.43" r="3.9"/>
<circle cx="461.76" cy="1304.31" r="3.9"/>
<circle cx="485.57" cy="1315.83" r="3.9"/>
<circle cx="509.38" cy="1334.43" r="3.9"/>
<circle cx="533.19" cy="1344.64" r="3.9"/>
<circle cx="557" cy="1349.36" r="3.9"/>
</g>
<polyline fill="none" stroke="#00ff30" stroke-width="1.7" stroke-linejoin="round" points="104.6,1351.19 128.41,1351.19 152.22,1349.62 176.03,1348.05 199.84,1343.6 223.65,1334.69 247.46,1320.02 271.27,1318.71 295.08,1336.79 318.89,1346.21 342.7,1347.52 366.51,1342.81 390.32,1329.45 414.14,1319.5 437.95,1313.21 461.76,1302.74 485.57,1313.21 509.38,1333.64 533.19,1344.64 557,1349.36"/>
<g fill="#00ff30">
<circle cx="104.6" cy="1351.19" r="3.9"/>
<circle cx="128.41" cy="1351.19" r="3.9"/>
<circle cx="152.22" cy="1349.62" r="3.9"/>
<circle cx="176.03" cy="1348.05" r="3.9"/>
<circle cx="199.84" cy="1343.6" r="3.9"/>
<circle cx="223.65" cy="1334.69" r="3.9"/>
<circle cx="247.46" cy="1320.02" r="3.9"/>
<circle cx="271.27" cy="1318.71" r="3.9"/>
<circle cx="295.08" cy="1336.79" r="3.9"/>
<circle cx="318.89" cy="1346.21" r="3.9"/>
<circle cx="342.7" cy="1347.52" r="3.9"/>
<circle cx="366.51" cy="1342.81" r="3.9"/>
<circle cx="390.32" cy="1329.45" r="3.9"/>
<circle cx="414.14" cy="1319.5" r="3.9"/>
<circle cx="437.95" cy="1313.21" r="3.9"/>
<circle cx="461.76" cy="1302.74" r="3.9"/>
<circle cx="485.57" cy="1313.21" r="3.9"/>
<circle cx="509.38" cy="1333.64" r="3.9"/>
<circle cx="533.19" cy="1344.64" r="3.9"/>
<circle cx="557" cy="1349.36" r="3.9"/>
</g>
</g>
<rect x="93.5" y="1090.5" width="533" height="262" fill="none" stroke="#000" stroke-width="1.1"/>
<line x1="93.5" y1="1352.5" x2="93.5" y2="1357.66" stroke="#000" stroke-width="1.1"/>
<text x="93.8" y="1374" font-size="16.64" text-anchor="middle" textLength="35.66" lengthAdjust="spacingAndGlyphs">0.01</text>
<line x1="137.5" y1="1352.5" x2="137.5" y2="1355.68" stroke="#000" stroke-width="1"/>
<line x1="162.5" y1="1352.5" x2="162.5" y2="1355.68" stroke="#000" stroke-width="1"/>
<line x1="180.5" y1="1352.5" x2="180.5" y2="1355.68" stroke="#000" stroke-width="1"/>
<line x1="194.5" y1="1352.5" x2="194.5" y2="1355.68" stroke="#000" stroke-width="1"/>
<line x1="205.5" y1="1352.5" x2="205.5" y2="1355.68" stroke="#000" stroke-width="1"/>
<line x1="215.5" y1="1352.5" x2="215.5" y2="1355.68" stroke="#000" stroke-width="1"/>
<line x1="223.5" y1="1352.5" x2="223.5" y2="1355.68" stroke="#000" stroke-width="1"/>
<line x1="231.5" y1="1352.5" x2="231.5" y2="1355.68" stroke="#000" stroke-width="1"/>
<line x1="237.5" y1="1352.5" x2="237.5" y2="1357.66" stroke="#000" stroke-width="1.1"/>
<text x="237.8" y="1374" font-size="16.64" text-anchor="middle" textLength="25.47" lengthAdjust="spacingAndGlyphs">0.1</text>
<line x1="281.5" y1="1352.5" x2="281.5" y2="1355.68" stroke="#000" stroke-width="1"/>
<line x1="306.5" y1="1352.5" x2="306.5" y2="1355.68" stroke="#000" stroke-width="1"/>
<line x1="324.5" y1="1352.5" x2="324.5" y2="1355.68" stroke="#000" stroke-width="1"/>
<line x1="338.5" y1="1352.5" x2="338.5" y2="1355.68" stroke="#000" stroke-width="1"/>
<line x1="349.5" y1="1352.5" x2="349.5" y2="1355.68" stroke="#000" stroke-width="1"/>
<line x1="359.5" y1="1352.5" x2="359.5" y2="1355.68" stroke="#000" stroke-width="1"/>
<line x1="367.5" y1="1352.5" x2="367.5" y2="1355.68" stroke="#000" stroke-width="1"/>
<line x1="375.5" y1="1352.5" x2="375.5" y2="1355.68" stroke="#000" stroke-width="1"/>
<line x1="381.5" y1="1352.5" x2="381.5" y2="1357.66" stroke="#000" stroke-width="1.1"/>
<text x="381.8" y="1374" font-size="16.64" text-anchor="middle" textLength="25.47" lengthAdjust="spacingAndGlyphs">1.0</text>
<line x1="425.5" y1="1352.5" x2="425.5" y2="1355.68" stroke="#000" stroke-width="1"/>
<line x1="450.5" y1="1352.5" x2="450.5" y2="1355.68" stroke="#000" stroke-width="1"/>
<line x1="468.5" y1="1352.5" x2="468.5" y2="1355.68" stroke="#000" stroke-width="1"/>
<line x1="482.5" y1="1352.5" x2="482.5" y2="1355.68" stroke="#000" stroke-width="1"/>
<line x1="493.5" y1="1352.5" x2="493.5" y2="1355.68" stroke="#000" stroke-width="1"/>
<line x1="503.5" y1="1352.5" x2="503.5" y2="1355.68" stroke="#000" stroke-width="1"/>
<line x1="511.5" y1="1352.5" x2="511.5" y2="1355.68" stroke="#000" stroke-width="1"/>
<line x1="519.5" y1="1352.5" x2="519.5" y2="1355.68" stroke="#000" stroke-width="1"/>
<line x1="525.5" y1="1352.5" x2="525.5" y2="1357.66" stroke="#000" stroke-width="1.1"/>
<text x="525.8" y="1374" font-size="16.64" text-anchor="middle" textLength="35.66" lengthAdjust="spacingAndGlyphs">10.0</text>
<line x1="569.5" y1="1352.5" x2="569.5" y2="1355.68" stroke="#000" stroke-width="1"/>
<line x1="594.5" y1="1352.5" x2="594.5" y2="1355.68" stroke="#000" stroke-width="1"/>
<line x1="612.5" y1="1352.5" x2="612.5" y2="1355.68" stroke="#000" stroke-width="1"/>
<line x1="626.5" y1="1352.5" x2="626.5" y2="1355.68" stroke="#000" stroke-width="1"/>
<text x="360.13" y="1400" font-size="20.22" text-anchor="middle" textLength="117.52" lengthAdjust="spacingAndGlyphs">Radius (μm)</text>
<rect x="659.7" y="1341.29" width="12.5" height="11.51" fill="#ff0029"/>
<rect x="659.7" y="1330.38" width="12.5" height="11.51" fill="#ff1300"/>
<rect x="659.7" y="1319.46" width="12.5" height="11.51" fill="#ff4f00"/>
<rect x="659.7" y="1308.55" width="12.5" height="11.51" fill="#ff8a00"/>
<rect x="659.7" y="1297.64" width="12.5" height="11.51" fill="#ffc600"/>
<rect x="659.7" y="1286.73" width="12.5" height="11.51" fill="#fcff00"/>
<rect x="659.7" y="1275.81" width="12.5" height="11.51" fill="#c0ff00"/>
<rect x="659.7" y="1264.9" width="12.5" height="11.51" fill="#84ff00"/>
<rect x="659.7" y="1253.99" width="12.5" height="11.51" fill="#48ff00"/>
<rect x="659.7" y="1243.08" width="12.5" height="11.51" fill="#0cff00"/>
<rect x="659.7" y="1232.16" width="12.5" height="11.51" fill="#00ff30"/>
<rect x="659.7" y="1221.25" width="12.5" height="11.51" fill="#00ff6b"/>
<rect x="659.7" y="1210.34" width="12.5" height="11.51" fill="#00ffa7"/>
<rect x="659.7" y="1199.43" width="12.5" height="11.51" fill="#00ffe3"/>
<rect x="659.7" y="1188.51" width="12.5" height="11.51" fill="#00e0ff"/>
<rect x="659.7" y="1177.6" width="12.5" height="11.51" fill="#00a3ff"/>
<rect x="659.7" y="1166.69" width="12.5" height="11.51" fill="#0067ff"/>
<rect x="659.7" y="1155.78" width="12.5" height="11.51" fill="#002bff"/>
<rect x="659.7" y="1144.86" width="12.5" height="11.51" fill="#1100ff"/>
<rect x="659.7" y="1133.95" width="12.5" height="11.51" fill="#4e00ff"/>
<rect x="659.7" y="1123.04" width="12.5" height="11.51" fill="#8a00ff"/>
<rect x="659.7" y="1112.12" width="12.5" height="11.51" fill="#c600ff"/>
<rect x="659.7" y="1101.21" width="12.5" height="11.51" fill="#ff00fc"/>
<rect x="659.7" y="1090.3" width="12.5" height="11.51" fill="#ff00bf"/>
<rect x="659.5" y="1090.5" width="13" height="262" fill="none" stroke="#000" stroke-width="1.1"/>
<line x1="672.5" y1="1352.5" x2="677.66" y2="1352.5" stroke="#000" stroke-width="1.1"/>
<text x="682.46" y="1357.8" font-size="13.86" text-anchor="start" textLength="17.03" lengthAdjust="spacingAndGlyphs">15</text>
<line x1="672.5" y1="1330.5" x2="677.66" y2="1330.5" stroke="#000" stroke-width="1.1"/>
<text x="682.46" y="1335.97" font-size="13.86" text-anchor="start" textLength="17.03" lengthAdjust="spacingAndGlyphs">17</text>
<line x1="672.5" y1="1308.5" x2="677.66" y2="1308.5" stroke="#000" stroke-width="1.1"/>
<text x="682.46" y="1314.15" font-size="13.86" text-anchor="start" textLength="17.03" lengthAdjust="spacingAndGlyphs">19</text>
<line x1="672.5" y1="1287.5" x2="677.66" y2="1287.5" stroke="#000" stroke-width="1.1"/>
<text x="682.46" y="1292.33" font-size="13.86" text-anchor="start" textLength="17.03" lengthAdjust="spacingAndGlyphs">21</text>
<line x1="672.5" y1="1265.5" x2="677.66" y2="1265.5" stroke="#000" stroke-width="1.1"/>
<text x="682.46" y="1270.5" font-size="13.86" text-anchor="start" textLength="17.03" lengthAdjust="spacingAndGlyphs">23</text>
<line x1="672.5" y1="1221.5" x2="677.66" y2="1221.5" stroke="#000" stroke-width="1.1"/>
<text x="682.46" y="1226.85" font-size="13.86" text-anchor="start" textLength="17.03" lengthAdjust="spacingAndGlyphs">03</text>
<line x1="672.5" y1="1199.5" x2="677.66" y2="1199.5" stroke="#000" stroke-width="1.1"/>
<text x="682.46" y="1205.02" font-size="13.86" text-anchor="start" textLength="17.03" lengthAdjust="spacingAndGlyphs">05</text>
<line x1="672.5" y1="1177.5" x2="677.66" y2="1177.5" stroke="#000" stroke-width="1.1"/>
<text x="682.46" y="1183.2" font-size="13.86" text-anchor="start" textLength="17.03" lengthAdjust="spacingAndGlyphs">07</text>
<line x1="672.5" y1="1156.5" x2="677.66" y2="1156.5" stroke="#000" stroke-width="1.1"/>
<text x="682.46" y="1161.37" font-size="13.86" text-anchor="start" textLength="17.03" lengthAdjust="spacingAndGlyphs">09</text>
<line x1="672.5" y1="1134.5" x2="677.66" y2="1134.5" stroke="#000" stroke-width="1.1"/>
<text x="682.46" y="1139.55" font-size="13.86" text-anchor="start" textLength="17.03" lengthAdjust="spacingAndGlyphs">11</text>
<line x1="672.5" y1="1112.5" x2="677.66" y2="1112.5" stroke="#000" stroke-width="1.1"/>
<text x="682.46" y="1117.72" font-size="13.86" text-anchor="start" textLength="17.03" lengthAdjust="spacingAndGlyphs">13</text>
<line x1="672.5" y1="1090.5" x2="677.66" y2="1090.5" stroke="#000" stroke-width="1.1"/>
<text x="682.46" y="1095.9" font-size="13.86" text-anchor="start" textLength="17.03" lengthAdjust="spacingAndGlyphs">15</text>
<text x="682.46" y="1248.67" font-size="13.86" text-anchor="start" textLength="101.1" lengthAdjust="spacingAndGlyphs">01 2025-11-16</text>
<text transform="translate(805 1224) rotate(-90)" font-size="20.22" text-anchor="middle" textLength="107.12" lengthAdjust="spacingAndGlyphs">Time (UTC)</text>
<line x1="965.5" y1="1090.6" x2="965.5" y2="1352.5" stroke="#dadada" stroke-width="1"/>
<line x1="991.5" y1="1090.6" x2="991.5" y2="1352.5" stroke="#dadada" stroke-width="1"/>
<line x1="1009.5" y1="1090.6" x2="1009.5" y2="1352.5" stroke="#dadada" stroke-width="1"/>
<line x1="1024.5" y1="1090.6" x2="1024.5" y2="1352.5" stroke="#dadada" stroke-width="1"/>
<line x1="1035.5" y1="1090.6" x2="1035.5" y2="1352.5" stroke="#dadada" stroke-width="1"/>
<line x1="1045.5" y1="1090.6" x2="1045.5" y2="1352.5" stroke="#dadada" stroke-width="1"/>
<line x1="1054.5" y1="1090.6" x2="1054.5" y2="1352.5" stroke="#dadada" stroke-width="1"/>
<line x1="1061.5" y1="1090.6" x2="1061.5" y2="1352.5" stroke="#dadada" stroke-width="1"/>
<line x1="1068.5" y1="1090.6" x2="1068.5" y2="1352.5" stroke="#dadada" stroke-width="1"/>
<line x1="1113.5" y1="1090.6" x2="1113.5" y2="1352.5" stroke="#dadada" stroke-width="1"/>
<line x1="1139.5" y1="1090.6" x2="1139.5" y2="1352.5" stroke="#dadada" stroke-width="1"/>
<line x1="1157.5" y1="1090.6" x2="1157.5" y2="1352.5" stroke="#dadada" stroke-width="1"/>
<line x1="1172.5" y1="1090.6" x2="1172.5" y2="1352.5" stroke="#dadada" stroke-width="1"/>
<line x1="1183.5" y1="1090.6" x2="1183.5" y2="1352.5" stroke="#dadada" stroke-width="1"/>
<line x1="1193.5" y1="1090.6" x2="1193.5" y2="1352.5" stroke="#dadada" stroke-width="1"/>
<line x1="1202.5" y1="1090.6" x2="1202.5" y2="1352.5" stroke="#dadada" stroke-width="1"/>
<line x1="1209.5" y1="1090.6" x2="1209.5" y2="1352.5" stroke="#dadada" stroke-width="1"/>
<line x1="1216.5" y1="1090.6" x2="1216.5" y2="1352.5" stroke="#dadada" stroke-width="1"/>
<line x1="1261.5" y1="1090.6" x2="1261.5" y2="1352.5" stroke="#dadada" stroke-width="1"/>
<line x1="1287.5" y1="1090.6" x2="1287.5" y2="1352.5" stroke="#dadada" stroke-width="1"/>
<line x1="1305.5" y1="1090.6" x2="1305.5" y2="1352.5" stroke="#dadada" stroke-width="1"/>
<line x1="1319.5" y1="1090.6" x2="1319.5" y2="1352.5" stroke="#dadada" stroke-width="1"/>
<line x1="1331.5" y1="1090.6" x2="1331.5" y2="1352.5" stroke="#dadada" stroke-width="1"/>
<line x1="1341.5" y1="1090.6" x2="1341.5" y2="1352.5" stroke="#dadada" stroke-width="1"/>
<line x1="1350.5" y1="1090.6" x2="1350.5" y2="1352.5" stroke="#dadada" stroke-width="1"/>
<line x1="1357.5" y1="1090.6" x2="1357.5" y2="1352.5" stroke="#dadada" stroke-width="1"/>
<line x1="1364.5" y1="1090.6" x2="1364.5" y2="1352.5" stroke="#dadada" stroke-width="1"/>
<line x1="1409.5" y1="1090.6" x2="1409.5" y2="1352.5" stroke="#dadada" stroke-width="1"/>
<line x1="1435.5" y1="1090.6" x2="1435.5" y2="1352.5" stroke="#dadada" stroke-width="1"/>
<line x1="1453.5" y1="1090.6" x2="1453.5" y2="1352.5" stroke="#dadada" stroke-width="1"/>
<line x1="915.34" y1="1352.5" x2="920.5" y2="1352.5" stroke="#000" stroke-width="1.1"/>
<text x="910.34" y="1358.8" font-size="16.64" text-anchor="end" textLength="35.66" lengthAdjust="spacingAndGlyphs">0.00</text>
<line x1="920.8" y1="1300.5" x2="1467.9" y2="1300.5" stroke="#dadada" stroke-width="1"/>
<line x1="915.34" y1="1300.5" x2="920.5" y2="1300.5" stroke="#000" stroke-width="1.1"/>
<text x="910.34" y="1306.42" font-size="16.64" text-anchor="end" textLength="35.66" lengthAdjust="spacingAndGlyphs">0.02</text>
<line x1="920.8" y1="1247.5" x2="1467.9" y2="1247.5" stroke="#dadada" stroke-width="1"/>
<line x1="915.34" y1="1247.5" x2="920.5" y2="1247.5" stroke="#000" stroke-width="1.1"/>
<text x="910.34" y="1254.04" font-size="16.64" text-anchor="end" textLength="35.66" lengthAdjust="spacingAndGlyphs">0.04</text>
<line x1="920.8" y1="1195.5" x2="1467.9" y2="1195.5" stroke="#dadada" stroke-width="1"/>
<line x1="915.34" y1="1195.5" x2="920.5" y2="1195.5" stroke="#000" stroke-width="1.1"/>
<text x="910.34" y="1201.66" font-size="16.64" text-anchor="end" textLength="35.66" lengthAdjust="spacingAndGlyphs">0.06</text>
<line x1="920.8" y1="1142.5" x2="1467.9" y2="1142.5" stroke="#dadada" stroke-width="1"/>
<line x1="915.34" y1="1142.5" x2="920.5" y2="1142.5" stroke="#000" stroke-width="1.1"/>
<text x="910.34" y="1149.28" font-size="16.64" text-anchor="end" textLength="35.66" lengthAdjust="spacingAndGlyphs">0.08</text>
<line x1="915.34" y1="1090.5" x2="920.5" y2="1090.5" stroke="#000" stroke-width="1.1"/>
<text x="910.34" y="1096.9" font-size="16.64" text-anchor="end" textLength="35.66" lengthAdjust="spacingAndGlyphs">0.10</text>
<clipPath id="c8"><rect x="920.8" y="1090.6" width="547.1" height="261.9"/></clipPath>
<g clip-path="url(#c8)">
<polyline fill="none" stroke="#ff0500" stroke-width="1.7" stroke-linejoin="round" points="931.89,1352.24 956.35,1351.71 980.8,1350.4 1005.26,1348.57 1029.71,1345.95 1054.17,1342.81 1078.62,1340.98 1103.08,1342.02 1127.53,1345.95 1151.99,1348.57 1176.45,1349.36 1200.9,1349.36 1225.36,1348.57 1249.81,1347.79 1274.27,1347 1298.72,1345.17 1323.18,1345.95 1347.63,1347.26 1372.09,1349.88 1396.54,1351.45"/>
<g fill="#ff0500">
<circle cx="931.89" cy="1352.24" r="3.9"/>
<circle cx="956.35" cy="1351.71" r="3.9"/>
<circle cx="980.8" cy="1350.4" r="3.9"/>
<circle cx="1005.26" cy="1348.57" r="3.9"/>
<circle cx="1029.71" cy="1345.95" r="3.9"/>
<circle cx="1054.17" cy="1342.81" r="3.9"/>
<circle cx="1078.62" cy="1340.98" r="3.9"/>
<circle cx="1103.08" cy="1342.02" r="3.9"/>
<circle cx="1127.53" cy="1345.95" r="3.9"/>
<circle cx="1151.99" cy="1348.57" r="3.9"/>
<circle cx="1176.45" cy="1349.36" r="3.9"/>
<circle cx="1200.9" cy="1349.36" r="3.9"/>
<circle cx="1225.36" cy="1348.57" r="3.9"/>
<circle cx="1249.81" cy="1347.79" r="3.9"/>
<circle cx="1274.27" cy="1347" r="3.9"/>
<circle cx="1298.72" cy="1345.17" r="3.9"/>
<circle cx="1323.18" cy="1345.95" r="3.9"/>
<circle cx="1347.63" cy="1347.26" r="3.9"/>
<circle cx="1372.09" cy="1349.88" r="3.9"/>
<circle cx="1396.54" cy="1351.45" r="3.9"/>
</g>
<polyline fill="none" stroke="#ff3300" stroke-width="1.7" stroke-linejoin="round" points="931.89,1352.24 956.35,1351.71 980.8,1349.88 1005.26,1347.26 1029.71,1343.33 1054.17,1339.4 1078.62,1339.4 1103.08,1340.71 1127.53,1341.24 1151.99,1326.57 1176.45,1315.57 1200.9,1326.31 1225.36,1339.4 1249.81,1337.83 1274.27,1322.91 1298.72,1261.1 1323.18,1189.07 1347.63,1218.67 1372.09,1303.79 1396.54,1342.81"/>
<g fill="#ff3300">
<circle cx="931.89" cy="1352.24" r="3.9"/>
<circle cx="956.35" cy="1351.71" r="3.9"/>
<circle cx="980.8" cy="1349.88" r="3.9"/>
<circle cx="1005.26" cy="1347.26" r="3.9"/>
<circle cx="1029.71" cy="1343.33" r="3.9"/>
<circle cx="1054.17" cy="1339.4" r="3.9"/>
<circle cx="1078.62" cy="1339.4" r="3.9"/>
<circle cx="1103.08" cy="1340.71" r="3.9"/>
<circle cx="1127.53" cy="1341.24" r="3.9"/>
<circle cx="1151.99" cy="1326.57" r="3.9"/>
<circle cx="1176.45" cy="1315.57" r="3.9"/>
<circle cx="1200.9" cy="1326.31" r="3.9"/>
<circle cx="1225.36" cy="1339.4" r="3.9"/>
<circle cx="1249.81" cy="1337.83" r="3.9"/>
<circle cx="1274.27" cy="1322.91" r="3.9"/>
<circle cx="1298.72" cy="1261.1" r="3.9"/>
<circle cx="1323.18" cy="1189.07" r="3.9"/>
<circle cx="1347.63" cy="1218.67" r="3.9"/>
<circle cx="1372.09" cy="1303.79" r="3.9"/>
<circle cx="1396.54" cy="1342.81" r="3.9"/>
</g>
<polyline fill="none" stroke="#ff6000" stroke-width="1.7" stroke-linejoin="round" points="931.89,1352.24 956.35,1351.71 980.8,1349.88 1005.26,1347.26 1029.71,1344.64 1054.17,1340.71 1078.62,1339.4 1103.08,1340.71 1127.53,1344.64 1151.99,1347.26 1176.45,1348.57 1200.9,1348.57 1225.36,1347.79 1249.81,1347.26 1274.27,1346.74 1298.72,1344.64 1323.18,1344.38 1347.63,1345.95 1372.09,1349.36 1396.54,1351.45"/>
<g fill="#ff6000">
<circle cx="931.89" cy="1352.24" r="3.9"/>
<circle cx="956.35" cy="1351.71" r="3.9"/>
<circle cx="980.8" cy="1349.88" r="3.9"/>
<circle cx="1005.26" cy="1347.26" r="3.9"/>
<circle cx="1029.71" cy="1344.64" r="3.9"/>
<circle cx="1054.17" cy="1340.71" r="3.9"/>
<circle cx="1078.62" cy="1339.4" r="3.9"/>
<circle cx="1103.08" cy="1340.71" r="3.9"/>
<circle cx="1127.53" cy="1344.64" r="3.9"/>
<circle cx="1151.99" cy="1347.26" r="3.9"/>
<circle cx="1176.45" cy="1348.57" r="3.9"/>
<circle cx="1200.9" cy="1348.57" r="3.9"/>
<circle cx="1225.36" cy="1347.79" r="3.9"/>
<circle cx="1249.81" cy="1347.26" r="3.9"/>
<circle cx="1274.27" cy="1346.74" r="3.9"/>
<circle cx="1298.72" cy="1344.64" r="3.9"/>
<circle cx="1323.18" cy="1344.38" r="3.9"/>
<circle cx="1347.63" cy="1345.95" r="3.9"/>
<circle cx="1372.09" cy="1349.36" r="3.9"/>
<circle cx="1396.54" cy="1351.45" r="3.9"/>
</g>
<polyline fill="none" stroke="#ff8e00" stroke-width="1.7" stroke-linejoin="round" points="931.89,1352.24 956.35,1351.71 980.8,1349.36 1005.26,1344.64 1029.71,1330.24 1054.17,1325 1078.62,1327.62 1103.08,1336.79 1127.53,1342.02 1151.99,1344.64 1176.45,1344.64 1200.9,1343.33 1225.36,1342.81 1249.81,1331.02 1274.27,1301.17 1298.72,1246.17 1323.18,1238.05 1347.63,1290.43 1372.09,1333.38 1396.54,1349.36"/>
<g fill="#ff8e00">
<circle cx="931.89" cy="1352.24" r="3.9"/>
<circle cx="956.35" cy="1351.71" r="3.9"/>
<circle cx="980.8" cy="1349.36" r="3.9"/>
<circle cx="1005.26" cy="1344.64" r="3.9"/>
<circle cx="1029.71" cy="1330.24" r="3.9"/>
<circle cx="1054.17" cy="1325" r="3.9"/>
<circle cx="1078.62" cy="1327.62" r="3.9"/>
<circle cx="1103.08" cy="1336.79" r="3.9"/>
<circle cx="1127.53" cy="1342.02" r="3.9"/>
<circle cx="1151.99" cy="1344.64" r="3.9"/>
<circle cx="1176.45" cy="1344.64" r="3.9"/>
<circle cx="1200.9" cy="1343.33" r="3.9"/>
<circle cx="1225.36" cy="1342.81" r="3.9"/>
<circle cx="1249.81" cy="1331.02" r="3.9"/>
<circle cx="1274.27" cy="1301.17" r="3.9"/>
<circle cx="1298.72" cy="1246.17" r="3.9"/>
<circle cx="1323.18" cy="1238.05" r="3.9"/>
<circle cx="1347.63" cy="1290.43" r="3.9"/>
<circle cx="1372.09" cy="1333.38" r="3.9"/>
<circle cx="1396.54" cy="1349.36" r="3.9"/>
</g>
<polyline fill="none" stroke="#ffea00" stroke-width="1.7" stroke-linejoin="round" points="931.89,1351.71 956.35,1351.19 980.8,1347.26 1005.26,1337.83 1029.71,1326.83 1054.17,1323.69 1078.62,1325 1103.08,1332.33 1127.53,1322.64 1151.99,1275.76 1176.45,1244.07 1200.9,1283.1 1225.36,1321.07 1249.81,1303.52 1274.27,1195.36 1298.72,896.79 1323.18,697.75 1347.63,773.7 1372.09,1129.88 1396.54,1314"/>
<g fill="#ffea00">
<circle cx="931.89" cy="1351.71" r="3.9"/>
<circle cx="956.35" cy="1351.19" r="3.9"/>
<circle cx="980.8" cy="1347.26" r="3.9"/>
<circle cx="1005.26" cy="1337.83" r="3.9"/>
<circle cx="1029.71" cy="1326.83" r="3.9"/>
<circle cx="1054.17" cy="1323.69" r="3.9"/>
<circle cx="1078.62" cy="1325" r="3.9"/>
<circle cx="1103.08" cy="1332.33" r="3.9"/>
<circle cx="1127.53" cy="1322.64" r="3.9"/>
<circle cx="1151.99" cy="1275.76" r="3.9"/>
<circle cx="1176.45" cy="1244.07" r="3.9"/>
<circle cx="1200.9" cy="1283.1" r="3.9"/>
<circle cx="1225.36" cy="1321.07" r="3.9"/>
<circle cx="1249.81" cy="1303.52" r="3.9"/>
<circle cx="1274.27" cy="1195.36" r="3.9"/>
<circle cx="1298.72" cy="896.79" r="3.9"/>
<circle cx="1323.18" cy="697.75" r="3.9"/>
<circle cx="1347.63" cy="773.7" r="3.9"/>
<circle cx="1372.09" cy="1129.88" r="3.9"/>
<circle cx="1396.54" cy="1314" r="3.9"/>
</g>
<polyline fill="none" stroke="#e6ff00" stroke-width="1.7" stroke-linejoin="round" points="931.89,1351.98 956.35,1351.19 980.8,1348.57 1005.26,1343.33 1029.71,1334.17 1054.17,1326.31 1078.62,1321.07 1103.08,1318.45 1127.53,1318.45 1151.99,1332.86 1176.45,1342.02 1200.9,1336.79 1225.36,1321.07 1249.81,1289.91 1274.27,1294.62 1298.72,1302.74 1323.18,1314.79 1347.63,1328.93 1372.09,1342.02 1396.54,1349.88"/>
<g fill="#e6ff00">
<circle cx="931.89" cy="1351.98" r="3.9"/>
<circle cx="956.35" cy="1351.19" r="3.9"/>
<circle cx="980.8" cy="1348.57" r="3.9"/>
<circle cx="1005.26" cy="1343.33" r="3.9"/>
<circle cx="1029.71" cy="1334.17" r="3.9"/>
<circle cx="1054.17" cy="1326.31" r="3.9"/>
<circle cx="1078.62" cy="1321.07" r="3.9"/>
<circle cx="1103.08" cy="1318.45" r="3.9"/>
<circle cx="1127.53" cy="1318.45" r="3.9"/>
<circle cx="1151.99" cy="1332.86" r="3.9"/>
<circle cx="1176.45" cy="1342.02" r="3.9"/>
<circle cx="1200.9" cy="1336.79" r="3.9"/>
<circle cx="1225.36" cy="1321.07" r="3.9"/>
<circle cx="1249.81" cy="1289.91" r="3.9"/>
<circle cx="1274.27" cy="1294.62" r="3.9"/>
<circle cx="1298.72" cy="1302.74" r="3.9"/>
<circle cx="1323.18" cy="1314.79" r="3.9"/>
<circle cx="1347.63" cy="1328.93" r="3.9"/>
<circle cx="1372.09" cy="1342.02" r="3.9"/>
<circle cx="1396.54" cy="1349.88" r="3.9"/>
</g>
<polyline fill="none" stroke="#b8ff00" stroke-width="1.7" stroke-linejoin="round" points="931.89,1351.98 956.35,1351.19 980.8,1348.57 1005.26,1342.02 1029.71,1331.55 1054.17,1321.07 1078.62,1310.6 1103.08,1300.91 1127.53,1308.24 1151.99,1330.5 1176.45,1339.4 1200.9,1323.69 1225.36,1300.38 1249.81,1278.12 1274.27,1281.79 1298.72,1292.79 1323.18,1301.17 1347.63,1318.71 1372.09,1336 1396.54,1347.79"/>
<g fill="#b8ff00">
<circle cx="931.89" cy="1351.98" r="3.9"/>
<circle cx="956.35" cy="1351.19" r="3.9"/>
<circle cx="980.8" cy="1348.57" r="3.9"/>
<circle cx="1005.26" cy="1342.02" r="3.9"/>
<circle cx="1029.71" cy="1331.55" r="3.9"/>
<circle cx="1054.17" cy="1321.07" r="3.9"/>
<circle cx="1078.62" cy="1310.6" r="3.9"/>
<circle cx="1103.08" cy="1300.91" r="3.9"/>
<circle cx="1127.53" cy="1308.24" r="3.9"/>
<circle cx="1151.99" cy="1330.5" r="3.9"/>
<circle cx="1176.45" cy="1339.4" r="3.9"/>
<circle cx="1200.9" cy="1323.69" r="3.9"/>
<circle cx="1225.36" cy="1300.38" r="3.9"/>
<circle cx="1249.81" cy="1278.12" r="3.9"/>
<circle cx="1274.27" cy="1281.79" r="3.9"/>
<circle cx="1298.72" cy="1292.79" r="3.9"/>
<circle cx="1323.18" cy="1301.17" r="3.9"/>
<circle cx="1347.63" cy="1318.71" r="3.9"/>
<circle cx="1372.09" cy="1336" r="3.9"/>
<circle cx="1396.54" cy="1347.79" r="3.9"/>
</g>
<polyline fill="none" stroke="#5cff00" stroke-width="1.7" stroke-linejoin="round" points="931.89,1351.98 956.35,1351.45 980.8,1349.88 1005.26,1347.79 1029.71,1344.64 1054.17,1340.71 1078.62,1337.83 1103.08,1336.79 1127.53,1340.71 1151.99,1345.95 1176.45,1347.79 1200.9,1345.95 1225.36,1343.33 1249.81,1339.93 1274.27,1337.83 1298.72,1335.48 1323.18,1339.4 1347.63,1344.64 1372.09,1349.36 1396.54,1351.19"/>
<g fill="#5cff00">
<circle cx="931.89" cy="1351.98" r="3.9"/>
<circle cx="956.35" cy="1351.45" r="3.9"/>
<circle cx="980.8" cy="1349.88" r="3.9"/>
<circle cx="1005.26" cy="1347.79" r="3.9"/>
<circle cx="1029.71" cy="1344.64" r="3.9"/>
<circle cx="1054.17" cy="1340.71" r="3.9"/>
<circle cx="1078.62" cy="1337.83" r="3.9"/>
<circle cx="1103.08" cy="1336.79" r="3.9"/>
<circle cx="1127.53" cy="1340.71" r="3.9"/>
<circle cx="1151.99" cy="1345.95" r="3.9"/>
<circle cx="1176.45" cy="1347.79" r="3.9"/>
<circle cx="1200.9" cy="1345.95" r="3.9"/>
<circle cx="1225.36" cy="1343.33" r="3.9"/>
<circle cx="1249.81" cy="1339.93" r="3.9"/>
<circle cx="1274.27" cy="1337.83" r="3.9"/>
<circle cx="1298.72" cy="1335.48" r="3.9"/>
<circle cx="1323.18" cy="1339.4" r="3.9"/>
<circle cx="1347.63" cy="1344.64" r="3.9"/>
<circle cx="1372.09" cy="1349.36" r="3.9"/>
<circle cx="1396.54" cy="1351.19" r="3.9"/>
</g>
<polyline fill="none" stroke="#00ff00" stroke-width="1.7" stroke-linejoin="round" points="931.89,1351.98 956.35,1351.19 980.8,1348.57 1005.26,1343.07 1029.71,1335.21 1054.17,1321.07 1078.62,1309.55 1103.08,1313.21 1127.53,1319.76 1151.99,1321.07 1176.45,1331.81 1200.9,1339.4 1225.36,1336.79 1249.81,1321.07 1274.27,1266.86 1298.72,1168.38 1323.18,1058.12 1347.63,1109.46 1372.09,1264.5 1396.54,1336"/>
<g fill="#00ff00">
<circle cx="931.89" cy="1351.98" r="3.9"/>
<circle cx="956.35" cy="1351.19" r="3.9"/>
<circle cx="980.8" cy="1348.57" r="3.9"/>
<circle cx="1005.26" cy="1343.07" r="3.9"/>
<circle cx="1029.71" cy="1335.21" r="3.9"/>
<circle cx="1054.17" cy="1321.07" r="3.9"/>
<circle cx="1078.62" cy="1309.55" r="3.9"/>
<circle cx="1103.08" cy="1313.21" r="3.9"/>
<circle cx="1127.53" cy="1319.76" r="3.9"/>
<circle cx="1151.99" cy="1321.07" r="3.9"/>
<circle cx="1176.45" cy="1331.81" r="3.9"/>
<circle cx="1200.9" cy="1339.4" r="3.9"/>
<circle cx="1225.36" cy="1336.79" r="3.9"/>
<circle cx="1249.81" cy="1321.07" r="3.9"/>
<circle cx="1274.27" cy="1266.86" r="3.9"/>
<circle cx="1298.72" cy="1168.38" r="3.9"/>
<circle cx="1323.18" cy="1058.12" r="3.9"/>
<circle cx="1347.63" cy="1109.46" r="3.9"/>
<circle cx="1372.09" cy="1264.5" r="3.9"/>
<circle cx="1396.54" cy="1336" r="3.9"/>
</g>
<polyline fill="none" stroke="#00ff5b" stroke-width="1.7" stroke-linejoin="round" points="931.89,1351.71 956.35,1351.45 980.8,1349.88 1005.26,1347.26 1029.71,1342.02 1054.17,1335.48 1078.62,1326.05 1103.08,1323.69 1127.53,1328.93 1151.99,1343.33 1176.45,1347.79 1200.9,1344.64 1225.36,1338.1 1249.81,1331.55 1274.27,1329.98 1298.72,1327.62 1323.18,1334.43 1347.63,1342.02 1372.09,1347.79 1396.54,1350.4"/>
<g fill="#00ff5b">
<circle cx="931.89" cy="1351.71" r="3.9"/>
<circle cx="956.35" cy="1351.45" r="3.9"/>
<circle cx="980.8" cy="1349.88" r="3.9"/>
<circle cx="1005.26" cy="1347.26" r="3.9"/>
<circle cx="1029.71" cy="1342.02" r="3.9"/>
<circle cx="1054.17" cy="1335.48" r="3.9"/>
<circle cx="1078.62" cy="1326.05" r="3.9"/>
<circle cx="1103.08" cy="1323.69" r="3.9"/>
<circle cx="1127.53" cy="1328.93" r="3.9"/>
<circle cx="1151.99" cy="1343.33" r="3.9"/>
<circle cx="1176.45" cy="1347.79" r="3.9"/>
<circle cx="1200.9" cy="1344.64" r="3.9"/>
<circle cx="1225.36" cy="1338.1" r="3.9"/>
<circle cx="1249.81" cy="1331.55" r="3.9"/>
<circle cx="1274.27" cy="1329.98" r="3.9"/>
<circle cx="1298.72" cy="1327.62" r="3.9"/>
<circle cx="1323.18" cy="1334.43" r="3.9"/>
<circle cx="1347.63" cy="1342.02" r="3.9"/>
<circle cx="1372.09" cy="1347.79" r="3.9"/>
<circle cx="1396.54" cy="1350.4" r="3.9"/>
</g>
<polyline fill="none" stroke="#00ff89" stroke-width="1.7" stroke-linejoin="round" points="931.89,1351.71 956.35,1351.45 980.8,1349.88 1005.26,1347.26 1029.71,1340.71 1054.17,1334.17 1078.62,1321.6 1103.08,1315.83 1127.53,1321.07 1151.99,1340.71 1176.45,1347.26 1200.9,1343.33 1225.36,1334.17 1249.81,1326.31 1274.27,1319.76 1298.72,1320.02 1323.18,1327.62 1347.63,1338.1 1372.09,1346.74 1396.54,1349.88"/>
<g fill="#00ff89">
<circle cx="931.89" cy="1351.71" r="3.9"/>
<circle cx="956.35" cy="1351.45" r="3.9"/>
<circle cx="980.8" cy="1349.88" r="3.9"/>
<circle cx="1005.26" cy="1347.26" r="3.9"/>
<circle cx="1029.71" cy="1340.71" r="3.9"/>
<circle cx="1054.17" cy="1334.17" r="3.9"/>
<circle cx="1078.62" cy="1321.6" r="3.9"/>
<circle cx="1103.08" cy="1315.83" r="3.9"/>
<circle cx="1127.53" cy="1321.07" r="3.9"/>
<circle cx="1151.99" cy="1340.71" r="3.9"/>
<circle cx="1176.45" cy="1347.26" r="3.9"/>
<circle cx="1200.9" cy="1343.33" r="3.9"/>
<circle cx="1225.36" cy="1334.17" r="3.9"/>
<circle cx="1249.81" cy="1326.31" r="3.9"/>
<circle cx="1274.27" cy="1319.76" r="3.9"/>
<circle cx="1298.72" cy="1320.02" r="3.9"/>
<circle cx="1323.18" cy="1327.62" r="3.9"/>
<circle cx="1347.63" cy="1338.1" r="3.9"/>
<circle cx="1372.09" cy="1346.74" r="3.9"/>
<circle cx="1396.54" cy="1349.88" r="3.9"/>
</g>
<polyline fill="none" stroke="#00ffb7" stroke-width="1.7" stroke-linejoin="round" points="931.89,1351.71 956.35,1351.45 980.8,1349.88 1005.26,1346.74 1029.71,1339.93 1054.17,1332.86 1078.62,1318.45 1103.08,1312.69 1127.53,1331.29 1151.99,1344.64 1176.45,1346.74 1200.9,1342.02 1225.36,1331.55 1249.81,1322.91 1274.27,1319.24 1298.72,1320.02 1323.18,1327.62 1347.63,1338.1 1372.09,1345.95 1396.54,1349.36"/>
<g fill="#00ffb7">
<circle cx="931.89" cy="1351.71" r="3.9"/>
<circle cx="956.35" cy="1351.45" r="3.9"/>
<circle cx="980.8" cy="1349.88" r="3.9"/>
<circle cx="1005.26" cy="1346.74" r="3.9"/>
<circle cx="1029.71" cy="1339.93" r="3.9"/>
<circle cx="1054.17" cy="1332.86" r="3.9"/>
<circle cx="1078.62" cy="1318.45" r="3.9"/>
<circle cx="1103.08" cy="1312.69" r="3.9"/>
<circle cx="1127.53" cy="1331.29" r="3.9"/>
<circle cx="1151.99" cy="1344.64" r="3.9"/>
<circle cx="1176.45" cy="1346.74" r="3.9"/>
<circle cx="1200.9" cy="1342.02" r="3.9"/>
<circle cx="1225.36" cy="1331.55" r="3.9"/>
<circle cx="1249.81" cy="1322.91" r="3.9"/>
<circle cx="1274.27" cy="1319.24" r="3.9"/>
<circle cx="1298.72" cy="1320.02" r="3.9"/>
<circle cx="1323.18" cy="1327.62" r="3.9"/>
<circle cx="1347.63" cy="1338.1" r="3.9"/>
<circle cx="1372.09" cy="1345.95" r="3.9"/>
<circle cx="1396.54" cy="1349.36" r="3.9"/>
</g>
<polyline fill="none" stroke="#00ffb7" stroke-width="1.7" stroke-linejoin="round" points="931.89,1351.71 956.35,1351.45 980.8,1349.36 1005.26,1345.95 1029.71,1338.1 1054.17,1330.24 1078.62,1312.69 1103.08,1306.41 1127.53,1319.5 1151.99,1337.83 1176.45,1345.95 1200.9,1338.36 1225.36,1326.05 1249.81,1315.57 1274.27,1307.19 1298.72,1299.33 1323.18,1308.5 1347.63,1329.45 1372.09,1343.6 1396.54,1348.57"/>
<g fill="#00ffb7">
<circle cx="931.89" cy="1351.71" r="3.9"/>
<circle cx="956.35" cy="1351.45" r="3.9"/>
<circle cx="980.8" cy="1349.36" r="3.9"/>
<circle cx="1005.26" cy="1345.95" r="3.9"/>
<circle cx="1029.71" cy="1338.1" r="3.9"/>
<circle cx="1054.17" cy="1330.24" r="3.9"/>
<circle cx="1078.62" cy="1312.69" r="3.9"/>
<circle cx="1103.08" cy="1306.41" r="3.9"/>
<circle cx="1127.53" cy="1319.5" r="3.9"/>
<circle cx="1151.99" cy="1337.83" r="3.9"/>
<circle cx="1176.45" cy="1345.95" r="3.9"/>
<circle cx="1200.9" cy="1338.36" r="3.9"/>
<circle cx="1225.36" cy="1326.05" r="3.9"/>
<circle cx="1249.81" cy="1315.57" r="3.9"/>
<circle cx="1274.27" cy="1307.19" r="3.9"/>
<circle cx="1298.72" cy="1299.33" r="3.9"/>
<circle cx="1323.18" cy="1308.5" r="3.9"/>
<circle cx="1347.63" cy="1329.45" r="3.9"/>
<circle cx="1372.09" cy="1343.6" r="3.9"/>
<circle cx="1396.54" cy="1348.57" r="3.9"/>
</g>
</g>
<rect x="920.5" y="1090.5" width="547" height="262" fill="none" stroke="#000" stroke-width="1.1"/>
<line x1="920.5" y1="1352.5" x2="920.5" y2="1357.66" stroke="#000" stroke-width="1.1"/>
<text x="920.8" y="1374" font-size="16.64" text-anchor="middle" textLength="35.66" lengthAdjust="spacingAndGlyphs">0.01</text>
<line x1="965.5" y1="1352.5" x2="965.5" y2="1355.68" stroke="#000" stroke-width="1"/>
<line x1="991.5" y1="1352.5" x2="991.5" y2="1355.68" stroke="#000" stroke-width="1"/>
<line x1="1009.5" y1="1352.5" x2="1009.5" y2="1355.68" stroke="#000" stroke-width="1"/>
<line x1="1024.5" y1="1352.5" x2="1024.5" y2="1355.68" stroke="#000" stroke-width="1"/>
<line x1="1035.5" y1="1352.5" x2="1035.5" y2="1355.68" stroke="#000" stroke-width="1"/>
<line x1="1045.5" y1="1352.5" x2="1045.5" y2="1355.68" stroke="#000" stroke-width="1"/>
<line x1="1054.5" y1="1352.5" x2="1054.5" y2="1355.68" stroke="#000" stroke-width="1"/>
<line x1="1061.5" y1="1352.5" x2="1061.5" y2="1355.68" stroke="#000" stroke-width="1"/>
<line x1="1068.5" y1="1352.5" x2="1068.5" y2="1357.66" stroke="#000" stroke-width="1.1"/>
<text x="1068.7" y="1374" font-size="16.64" text-anchor="middle" textLength="25.47" lengthAdjust="spacingAndGlyphs">0.1</text>
<line x1="1113.5" y1="1352.5" x2="1113.5" y2="1355.68" stroke="#000" stroke-width="1"/>
<line x1="1139.5" y1="1352.5" x2="1139.5" y2="1355.68" stroke="#000" stroke-width="1"/>
<line x1="1157.5" y1="1352.5" x2="1157.5" y2="1355.68" stroke="#000" stroke-width="1"/>
<line x1="1172.5" y1="1352.5" x2="1172.5" y2="1355.68" stroke="#000" stroke-width="1"/>
<line x1="1183.5" y1="1352.5" x2="1183.5" y2="1355.68" stroke="#000" stroke-width="1"/>
<line x1="1193.5" y1="1352.5" x2="1193.5" y2="1355.68" stroke="#000" stroke-width="1"/>
<line x1="1202.5" y1="1352.5" x2="1202.5" y2="1355.68" stroke="#000" stroke-width="1"/>
<line x1="1209.5" y1="1352.5" x2="1209.5" y2="1355.68" stroke="#000" stroke-width="1"/>
<line x1="1216.5" y1="1352.5" x2="1216.5" y2="1357.66" stroke="#000" stroke-width="1.1"/>
<text x="1216.6" y="1374" font-size="16.64" text-anchor="middle" textLength="25.47" lengthAdjust="spacingAndGlyphs">1.0</text>
<line x1="1261.5" y1="1352.5" x2="1261.5" y2="1355.68" stroke="#000" stroke-width="1"/>
<line x1="1287.5" y1="1352.5" x2="1287.5" y2="1355.68" stroke="#000" stroke-width="1"/>
<line x1="1305.5" y1="1352.5" x2="1305.5" y2="1355.68" stroke="#000" stroke-width="1"/>
<line x1="1319.5" y1="1352.5" x2="1319.5" y2="1355.68" stroke="#000" stroke-width="1"/>
<line x1="1331.5" y1="1352.5" x2="1331.5" y2="1355.68" stroke="#000" stroke-width="1"/>
<line x1="1341.5" y1="1352.5" x2="1341.5" y2="1355.68" stroke="#000" stroke-width="1"/>
<line x1="1350.5" y1="1352.5" x2="1350.5" y2="1355.68" stroke="#000" stroke-width="1"/>
<line x1="1357.5" y1="1352.5" x2="1357.5" y2="1355.68" stroke="#000" stroke-width="1"/>
<line x1="1364.5" y1="1352.5" x2="1364.5" y2="1357.66" stroke="#000" stroke-width="1.1"/>
<text x="1364.5" y="1374" font-size="16.64" text-anchor="middle" textLength="35.66" lengthAdjust="spacingAndGlyphs">10.0</text>
<line x1="1409.5" y1="1352.5" x2="1409.5" y2="1355.68" stroke="#000" stroke-width="1"/>
<line x1="1435.5" y1="1352.5" x2="1435.5" y2="1355.68" stroke="#000" stroke-width="1"/>
<line x1="1453.5" y1="1352.5" x2="1453.5" y2="1355.68" stroke="#000" stroke-width="1"/>
<line x1="1467.5" y1="1352.5" x2="1467.5" y2="1355.68" stroke="#000" stroke-width="1"/>
<text x="1194.35" y="1400" font-size="20.22" text-anchor="middle" textLength="117.52" lengthAdjust="spacingAndGlyphs">Radius (μm)</text>
<rect x="1501.5" y="1343.75" width="14" height="9.05" fill="#ff0029"/>
<rect x="1501.5" y="1335.3" width="14" height="9.05" fill="#ff0500"/>
<rect x="1501.5" y="1326.85" width="14" height="9.05" fill="#ff3300"/>
<rect x="1501.5" y="1318.41" width="14" height="9.05" fill="#ff6000"/>
<rect x="1501.5" y="1309.96" width="14" height="9.05" fill="#ff8e00"/>
<rect x="1501.5" y="1301.51" width="14" height="9.05" fill="#ffbc00"/>
<rect x="1501.5" y="1293.06" width="14" height="9.05" fill="#ffea00"/>
<rect x="1501.5" y="1284.61" width="14" height="9.05" fill="#e6ff00"/>
<rect x="1501.5" y="1276.16" width="14" height="9.05" fill="#b8ff00"/>
<rect x="1501.5" y="1267.72" width="14" height="9.05" fill="#8aff00"/>
<rect x="1501.5" y="1259.27" width="14" height="9.05" fill="#5cff00"/>
<rect x="1501.5" y="1250.82" width="14" height="9.05" fill="#2eff00"/>
<rect x="1501.5" y="1242.37" width="14" height="9.05" fill="#00ff00"/>
<rect x="1501.5" y="1233.92" width="14" height="9.05" fill="#00ff2e"/>
<rect x="1501.5" y="1225.47" width="14" height="9.05" fill="#00ff5b"/>
<rect x="1501.5" y="1217.03" width="14" height="9.05" fill="#00ff89"/>
<rect x="1501.5" y="1208.58" width="14" height="9.05" fill="#00ffb7"/>
<rect x="1501.5" y="1200.13" width="14" height="9.05" fill="#00ffe4"/>
<rect x="1501.5" y="1191.68" width="14" height="9.05" fill="#00ecff"/>
<rect x="1501.5" y="1183.23" width="14" height="9.05" fill="#00bdff"/>
<rect x="1501.5" y="1174.78" width="14" height="9.05" fill="#008fff"/>
<rect x="1501.5" y="1166.34" width="14" height="9.05" fill="#0061ff"/>
<rect x="1501.5" y="1157.89" width="14" height="9.05" fill="#0033ff"/>
<rect x="1501.5" y="1149.44" width="14" height="9.05" fill="#0005ff"/>
<rect x="1501.5" y="1140.99" width="14" height="9.05" fill="#2a00ff"/>
<rect x="1501.5" y="1132.54" width="14" height="9.05" fill="#5800ff"/>
<rect x="1501.5" y="1124.09" width="14" height="9.05" fill="#8600ff"/>
<rect x="1501.5" y="1115.65" width="14" height="9.05" fill="#b400ff"/>
<rect x="1501.5" y="1107.2" width="14" height="9.05" fill="#e200ff"/>
<rect x="1501.5" y="1098.75" width="14" height="9.05" fill="#ff00ed"/>
<rect x="1501.5" y="1090.3" width="14" height="9.05" fill="#ff00bf"/>
<rect x="1501.5" y="1090.5" width="14" height="262" fill="none" stroke="#000" stroke-width="1.1"/>
<line x1="1515.5" y1="1352.5" x2="1520.66" y2="1352.5" stroke="#000" stroke-width="1.1"/>
<text x="1525.76" y="1357.8" font-size="13.86" text-anchor="start" textLength="8.52" lengthAdjust="spacingAndGlyphs">0</text>
<line x1="1515.5" y1="1335.5" x2="1520.66" y2="1335.5" stroke="#000" stroke-width="1.1"/>
<text x="1525.76" y="1340.9" font-size="13.86" text-anchor="start" textLength="8.52" lengthAdjust="spacingAndGlyphs">2</text>
<line x1="1515.5" y1="1318.5" x2="1520.66" y2="1318.5" stroke="#000" stroke-width="1.1"/>
<text x="1525.76" y="1324.01" font-size="13.86" text-anchor="start" textLength="8.52" lengthAdjust="spacingAndGlyphs">4</text>
<line x1="1515.5" y1="1301.5" x2="1520.66" y2="1301.5" stroke="#000" stroke-width="1.1"/>
<text x="1525.76" y="1307.11" font-size="13.86" text-anchor="start" textLength="8.52" lengthAdjust="spacingAndGlyphs">6</text>
<line x1="1515.5" y1="1284.5" x2="1520.66" y2="1284.5" stroke="#000" stroke-width="1.1"/>
<text x="1525.76" y="1290.21" font-size="13.86" text-anchor="start" textLength="8.52" lengthAdjust="spacingAndGlyphs">8</text>
<line x1="1515.5" y1="1268.5" x2="1520.66" y2="1268.5" stroke="#000" stroke-width="1.1"/>
<text x="1525.76" y="1273.32" font-size="13.86" text-anchor="start" textLength="17.03" lengthAdjust="spacingAndGlyphs">10</text>
<line x1="1515.5" y1="1251.5" x2="1520.66" y2="1251.5" stroke="#000" stroke-width="1.1"/>
<text x="1525.76" y="1256.42" font-size="13.86" text-anchor="start" textLength="17.03" lengthAdjust="spacingAndGlyphs">12</text>
<line x1="1515.5" y1="1234.5" x2="1520.66" y2="1234.5" stroke="#000" stroke-width="1.1"/>
<text x="1525.76" y="1239.52" font-size="13.86" text-anchor="start" textLength="17.03" lengthAdjust="spacingAndGlyphs">14</text>
<line x1="1515.5" y1="1217.5" x2="1520.66" y2="1217.5" stroke="#000" stroke-width="1.1"/>
<text x="1525.76" y="1222.63" font-size="13.86" text-anchor="start" textLength="17.03" lengthAdjust="spacingAndGlyphs">16</text>
<line x1="1515.5" y1="1200.5" x2="1520.66" y2="1200.5" stroke="#000" stroke-width="1.1"/>
<text x="1525.76" y="1205.73" font-size="13.86" text-anchor="start" textLength="17.03" lengthAdjust="spacingAndGlyphs">18</text>
<line x1="1515.5" y1="1183.5" x2="1520.66" y2="1183.5" stroke="#000" stroke-width="1.1"/>
<text x="1525.76" y="1188.83" font-size="13.86" text-anchor="start" textLength="17.03" lengthAdjust="spacingAndGlyphs">20</text>
<line x1="1515.5" y1="1166.5" x2="1520.66" y2="1166.5" stroke="#000" stroke-width="1.1"/>
<text x="1525.76" y="1171.94" font-size="13.86" text-anchor="start" textLength="17.03" lengthAdjust="spacingAndGlyphs">22</text>
<line x1="1515.5" y1="1149.5" x2="1520.66" y2="1149.5" stroke="#000" stroke-width="1.1"/>
<text x="1525.76" y="1155.04" font-size="13.86" text-anchor="start" textLength="17.03" lengthAdjust="spacingAndGlyphs">24</text>
<line x1="1515.5" y1="1132.5" x2="1520.66" y2="1132.5" stroke="#000" stroke-width="1.1"/>
<text x="1525.76" y="1138.14" font-size="13.86" text-anchor="start" textLength="17.03" lengthAdjust="spacingAndGlyphs">26</text>
<line x1="1515.5" y1="1115.5" x2="1520.66" y2="1115.5" stroke="#000" stroke-width="1.1"/>
<text x="1525.76" y="1121.25" font-size="13.86" text-anchor="start" textLength="17.03" lengthAdjust="spacingAndGlyphs">28</text>
<line x1="1515.5" y1="1099.5" x2="1520.66" y2="1099.5" stroke="#000" stroke-width="1.1"/>
<text x="1525.76" y="1104.35" font-size="13.86" text-anchor="start" textLength="17.03" lengthAdjust="spacingAndGlyphs">30</text>
<text transform="translate(1562.7 1224) rotate(-90)" font-size="20.22" text-anchor="middle" textLength="48.36" lengthAdjust="spacingAndGlyphs">Days</text>
</svg>
</body></html>
